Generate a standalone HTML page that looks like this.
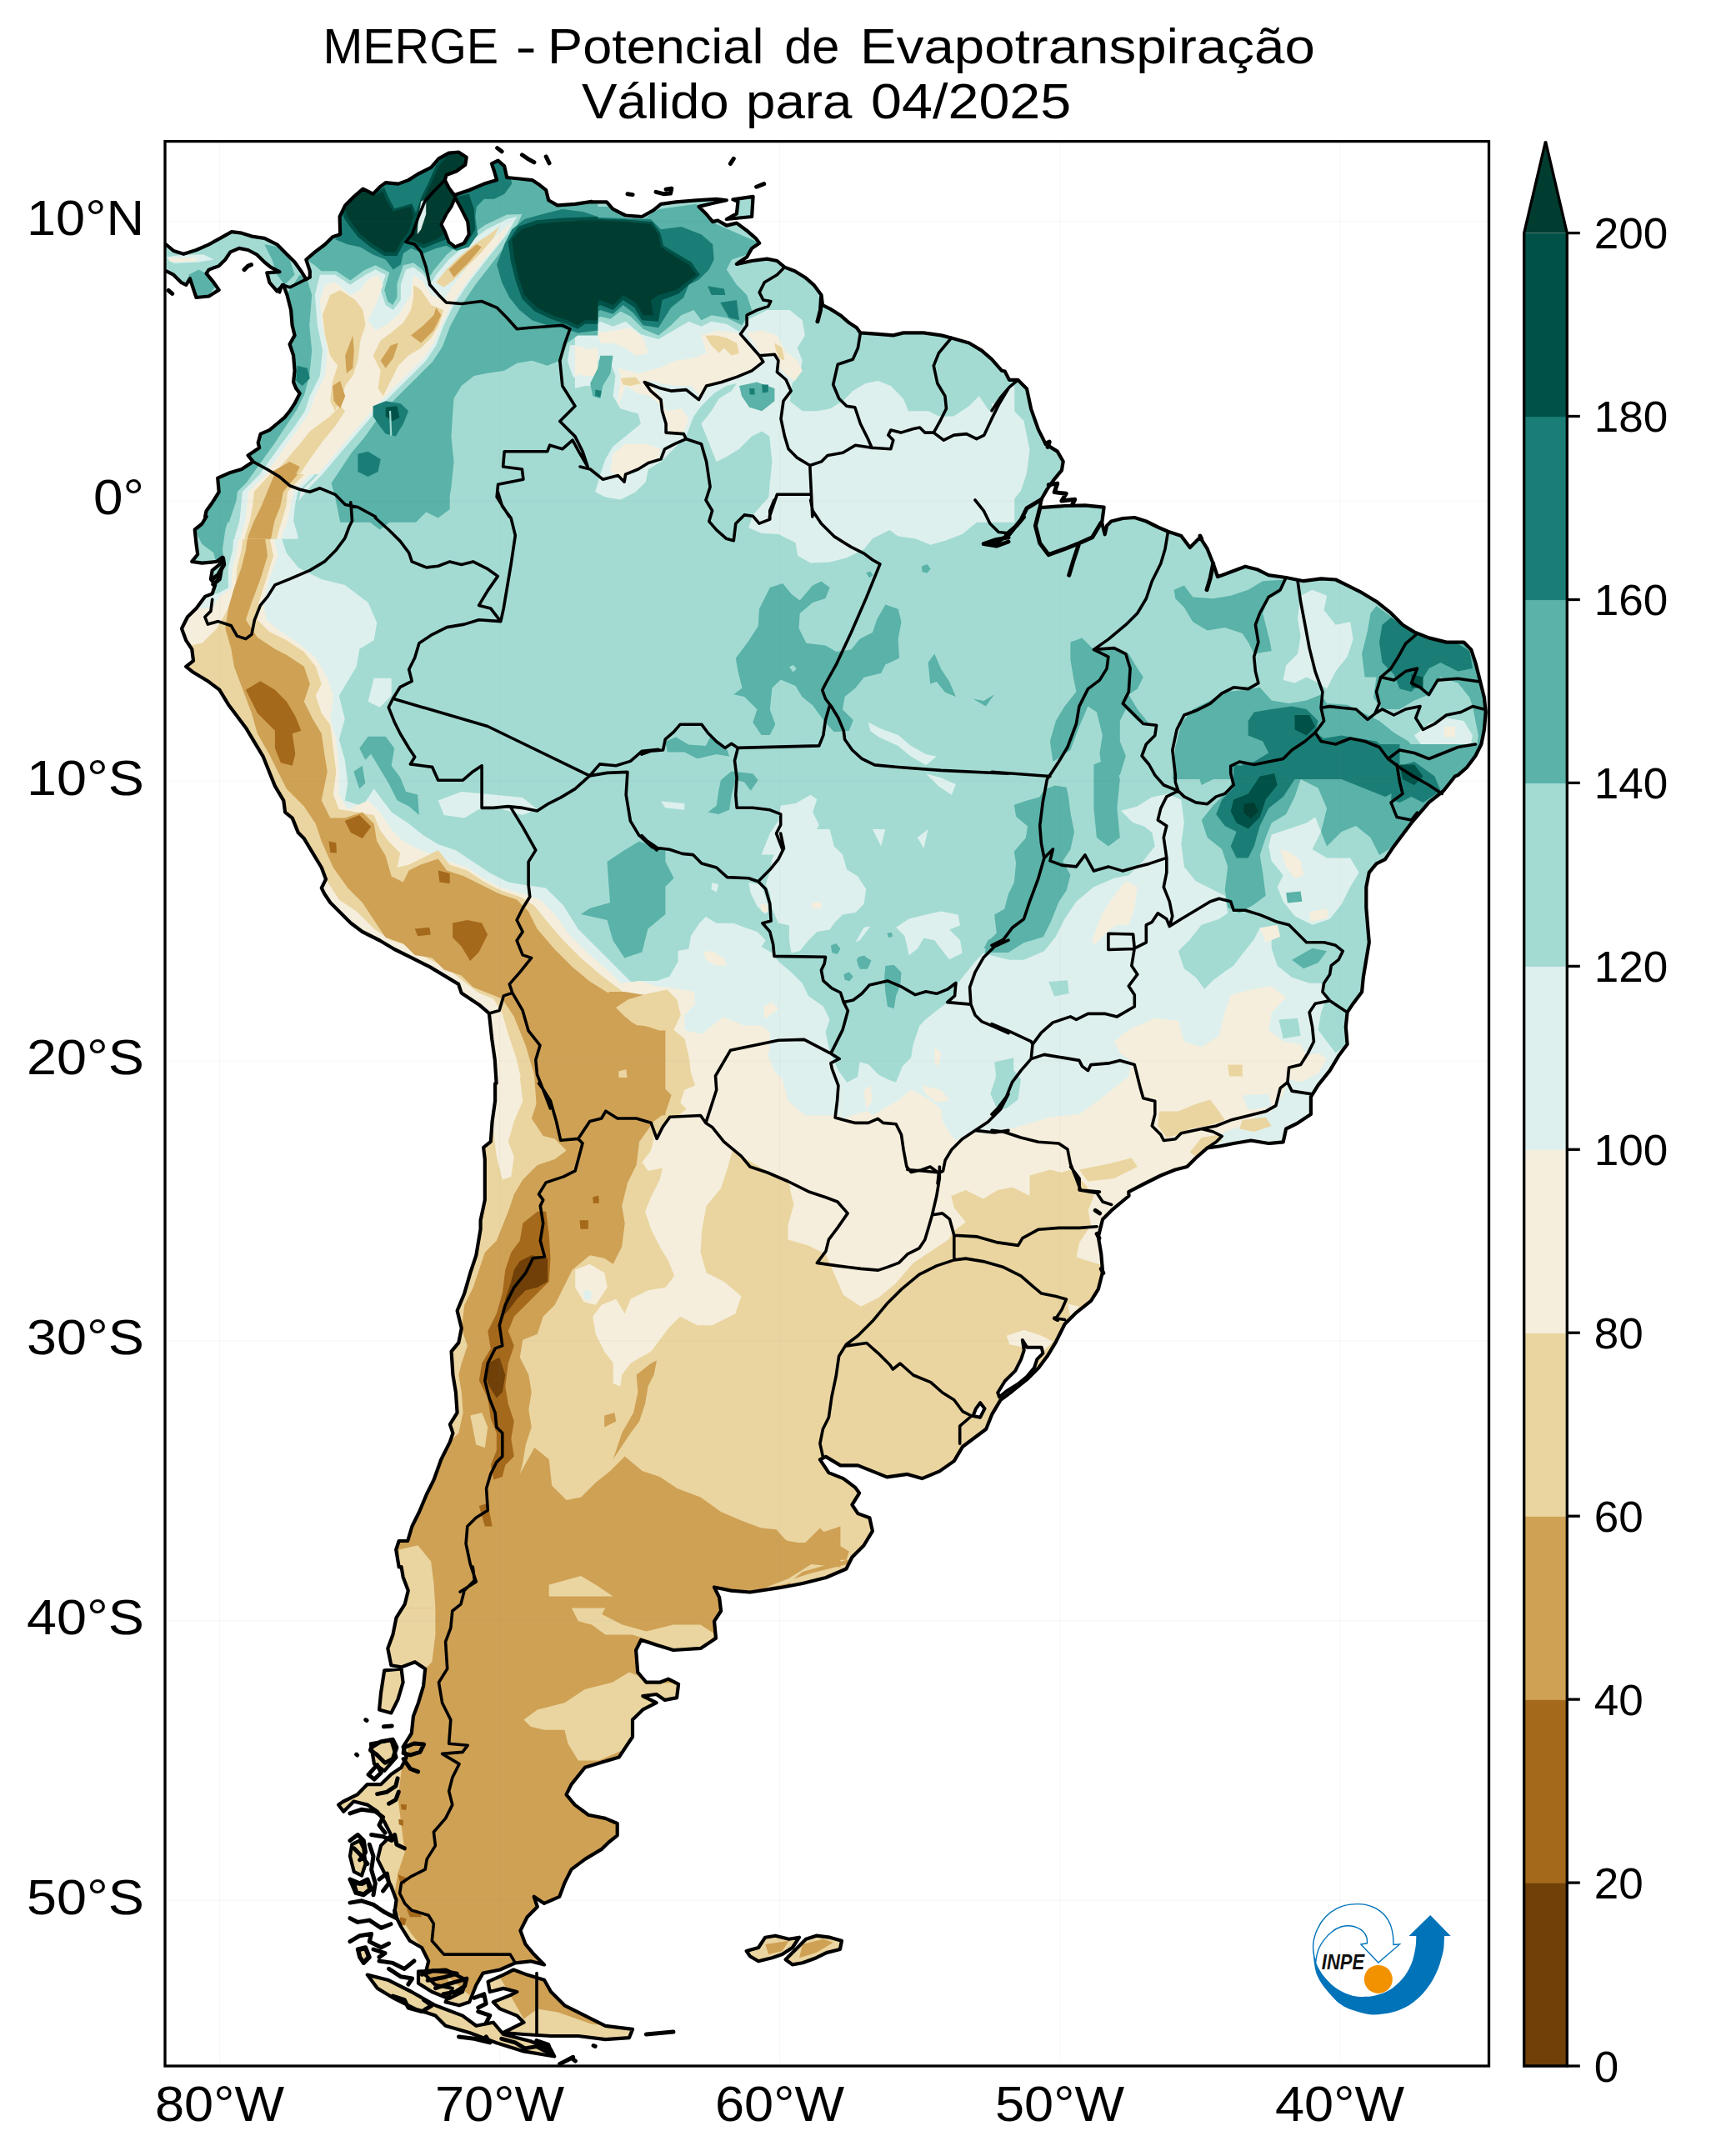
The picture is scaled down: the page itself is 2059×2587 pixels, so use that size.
<!DOCTYPE html>
<html><head><meta charset="utf-8"><title>MERGE - Potencial de Evapotranspiração</title>
<style>html,body{margin:0;padding:0;background:#fff}body{width:2059px;height:2587px;position:relative;overflow:hidden;font-family:"Liberation Sans",sans-serif}</style>
</head><body>
<svg width="2059" height="2587" viewBox="0 0 2059 2587" style="position:absolute;left:0;top:0">
<defs><clipPath id="land"><path d="M180.9,293.3 199.1,293.3 208.2,300.9 220.3,304.8 235.5,300 250.6,293.3 264.2,285.8 277.9,278.2 290,279.7 302.1,283.6 317.3,285.8 332.4,293.3 344.5,305.5 353.6,314.5 361.2,325.2 367.3,335.2 371.8,332.7 371.8,325.2 367.3,311.5 377.9,302.4 390,293.3 399.1,284.2 408.2,281.2 407.6,260 414.2,246.4 424.8,235.8 435.5,226.7 447.6,232.7 456.7,223.6 462.7,219.1 477.9,220.6 490,216.1 502.1,208.5 517.3,200.9 526.4,190.3 538.5,183.6 550.6,182.7 559.7,188.8 558.2,197.9 547.6,205.5 535.5,210 533.9,216.1 538.5,225.2 545.2,234.2 549.1,232.7 562.7,228.2 580.9,220.6 596.1,216.1 593,205.5 590,196.4 597.6,192.7 605.2,199.4 608.2,213 623.3,214.5 638.5,216.1 647.6,222.1 655.2,228.2 658.2,240.3 668.8,246.4 690,244.8 710,241.8 708.2,242.4 727.9,242.4 735.5,250.9 750.6,258.5 770.3,260 783.9,252.4 793,244.8 811.2,242.4 835.5,240.3 859.7,238.8 871.8,240.3 853.6,244.2 838.5,247.9 847.6,257 855.2,266.1 861.2,264.5 871.8,270.6 883.9,267.6 896.1,276.7 906.7,285.8 911.2,291.8 902.1,297.9 896.1,308.5 887,314.5 883.9,317 902.1,313 920.3,310.6 932.4,313 941.5,320.6 953.6,325.2 965.8,332.7 976.4,341.8 985.5,353.9 987,366.1 996.1,370.6 1008.2,378.2 1018.8,387.3 1027.9,393.3 1032.4,399.4 1053.6,400.9 1071.8,402.4 1083.9,399.4 1108.2,399.4 1129.4,402.4 1141.5,405.5 1162.7,411.5 1177.9,420.6 1190,431.2 1202.1,444.8 1205.7,445.5 1211,455.9 1221.5,455.9 1232,466.4 1237.2,490.9 1245.9,515.4 1254.7,532.9 1268.7,541.6 1275.7,553.8 1273.9,564.3 1265.2,574.8 1256.4,587.1 1249.4,599.3 1247.7,609.1 1277.4,607 1301.9,606.3 1324.6,608.7 1322.2,627.3 1325.7,641.3 1328.1,630.8 1333.4,625.5 1347.3,622 1361.3,621 1375.3,625.5 1389.3,632.5 1401.5,637.8 1417.3,643 1427.8,657 1440,644.8 1448.7,658.7 1455.7,676.2 1461,692 1466.2,690.2 1480.2,685 1494.2,679.7 1508.2,683.2 1522.2,690.2 1543.1,693 1564.1,697.2 1585.1,694.4 1602.6,695.5 1616.6,702.4 1634.1,711.2 1651.5,721.7 1669,735.7 1683,749.7 1697,758.4 1714.5,765.4 1735.5,770.6 1756.4,770.6 1765.2,779.4 1770.4,795.1 1775.7,816.1 1780.9,837.1 1782.7,854.5 1780.9,875.5 1777.4,893 1770.4,907 1759.9,921 1749.4,930.1 1745.9,931.5 1732,949 1714.5,962.9 1704,975.2 1693.5,987.4 1683,1001.4 1672.5,1015.4 1662,1031.1 1651.5,1036.4 1642.8,1046.9 1639.3,1064.3 1639.3,1088.8 1641,1109.8 1642.8,1130.8 1639.3,1151.7 1635.8,1172.7 1634.1,1190.2 1623.6,1204.2 1616.6,1214.7 1614.8,1232.2 1616.6,1253.1 1606.1,1267.1 1595.6,1284.6 1581.6,1302.1 1572.9,1316.1 1572.9,1337.1 1557.1,1347.6 1543.1,1354.5 1539.7,1370.3 1522.2,1372 1501.2,1368.5 1480.2,1372 1462.7,1375.5 1448.7,1377.3 1434.8,1389.5 1424.3,1400 1410.3,1403.5 1392.8,1410.5 1371.8,1421 1354.3,1430.1 1354.5,1435 1333.6,1452.4 1323.1,1462.9 1317.8,1483.9 1321.3,1504.9 1323.1,1525.9 1317.8,1546.9 1309.1,1560.8 1291.6,1574.8 1277.6,1588.8 1267.1,1609.8 1256.6,1627.3 1246.2,1641.3 1232.2,1655.2 1214.7,1669.2 1200.7,1679.7 1190.2,1697.2 1183.2,1714.7 1169.2,1725.2 1155.2,1735.7 1144.8,1753.1 1127.3,1765.4 1106.3,1774.1 1088.8,1768.9 1064.3,1772.4 1046.9,1765.4 1029.4,1758.4 1008.4,1758.4 990.9,1747.9 983.9,1751.4 994.4,1767.1 1011.9,1774.1 1025.9,1784.6 1031.1,1791.6 1022.4,1805.6 1029.4,1816.1 1043.4,1821.3 1046.9,1837.1 1036.4,1854.5 1022.4,1868.5 1015.4,1882.5 990.9,1893 962.9,1900 935,1905.2 900,1910.5 877.4,1908.6 857,1904.5 863.1,1916.7 865.1,1933 857,1945.3 859,1965.7 840.6,1977.9 808,1980 787.6,1973.8 769.2,1967.7 763.1,1980 765.2,2006.5 775.4,2018.7 791.7,2018.7 801.9,2014.6 814.1,2020.8 812.1,2037.1 797.8,2039.9 787.6,2033 771.3,2035 787.6,2043.2 771.3,2051.4 759,2063.6 759,2084 750.9,2096.2 742.7,2108.5 722.3,2114.6 701.9,2120.7 685.6,2141.1 679.5,2153.4 689.7,2165.6 706,2177.8 726.4,2181.9 740.7,2188 740.7,2202.3 730.5,2210.5 722.3,2218.6 701.9,2230.9 685.6,2243.1 677.4,2259.4 671.3,2275.8 653,2283.9 640.7,2275.8 644.8,2288 632.6,2300.2 624.4,2316.6 630.5,2332.9 640.7,2345.1 653,2357.4 636.6,2353.3 618.3,2355.3 599.9,2363.5 579.5,2367.6 571.4,2381.8 563.2,2402.2 551,2406.3 534.6,2402.2 542.8,2385.9 522.4,2381.8 510.2,2369.6 514.2,2353.3 506.1,2337 491.8,2328.8 481.6,2312.5 473.4,2296.2 475.5,2279.8 469.4,2263.5 461.2,2247.2 453,2230.9 457.1,2214.6 469.4,2202.3 461.2,2186 453,2173.8 440.8,2165.6 424.5,2161.5 412.2,2173.8 406.1,2165.6 412.2,2161.5 428.6,2153.4 440.8,2141.1 457.1,2141.1 469.4,2128.9 481.6,2120.7 487.7,2108.5 483.6,2096.2 493.8,2079.9 495.9,2059.5 502,2043.2 508.1,2022.8 510.2,2002.4 497.9,1994.2 481.6,2000.4 469.4,1998.3 465.3,1977.9 471.4,1961.6 475.5,1941.2 485.7,1924.9 489.8,1908.6 483.6,1892.2 481.6,1880 478.7,1880.4 475.2,1859.4 478.7,1849 489.2,1849 494.4,1831.5 503.1,1814 511.9,1793 520.6,1775.5 529.4,1751 539.9,1730.1 543.4,1719.6 539.9,1709.1 548.6,1695.1 546.9,1670.6 543.4,1649.7 541.6,1621.7 550.3,1611.2 553.8,1593.7 548.6,1572.7 557.3,1551.7 564.3,1527.3 571.3,1506.3 576.6,1474.8 576.6,1464.3 581.8,1439.9 581.8,1415.4 581.8,1390.9 580.1,1376.9 588.8,1369.9 590.6,1345.5 594.1,1321 594.1,1300 595.6,1299.8 593.8,1271.8 590.3,1247.3 586.9,1215.9 574.6,1205.4 553.6,1191.4 550.1,1180.9 532.7,1170.4 515.2,1159.9 494.2,1149.4 473.2,1139 455.7,1128.5 434.8,1118 420.8,1107.5 406.8,1093.5 396.3,1083 389.3,1072.5 385.8,1065.5 391,1055 385.8,1041 375.3,1023.6 364.8,1006.1 357.8,999.1 350.8,981.6 342.1,974.6 340.3,960.6 329.9,943.1 322.9,925.7 315.9,908.2 305.4,890.7 294.9,873.2 284.4,859.2 273.9,845.2 263.4,827.8 249.4,817.3 232,806.8 223.2,799.8 232,792.8 230.2,778.8 223.2,768.3 218,754.3 225,740.3 235.5,729.9 245.9,715.9 254.7,712.4 258.2,701.9 252.9,694.9 254.7,684.4 263.4,677.4 266.9,668.7 259.9,673.9 242.4,675.7 230.2,673.9 237.2,665.2 235.5,652.9 233.7,635.5 242.4,628.5 247.7,619.7 246.1,620 247.6,613 255.2,602.4 262.7,590.3 261.2,573.6 274.8,567.6 290,563 303.6,553.9 297.6,546.4 311.2,537.3 309.7,531.2 312.7,520.6 323.3,516.1 332.4,508.5 341.5,500.9 347.6,493.3 353.6,484.2 359.7,472.1 355.2,466.1 352.1,458.5 353.6,444.8 352.1,426.7 347.6,413 353.6,402.4 350.6,390.3 349.1,372.1 344.5,353.9 340,341.8 332.4,349.4 323.3,338.8 320.3,327.3 335.5,326.1 324.8,320.6 317.3,314.5 308.2,305.5 297.6,300 287,297.9 276.4,302.4 270.3,311.5 262.7,319.1 250.6,323.6 247.6,328.2 255.2,337.3 262.7,347.9 250.6,355.5 235.5,357 232.4,347.9 227.9,334.2 223.3,341.8 217.3,338.8 208.2,329.7 199.1,325.2 180.9,325.2ZM879.4,239.4 903.6,235.8 902.1,260 871.8,263 883.9,256.4 885.5,241.8ZM616.2,2363.5 632.6,2369.6 653,2375.7 661.1,2390 677.4,2406.3 701.9,2418.6 726.4,2430.8 759,2434.9 755,2445.1 726.4,2447.1 693.8,2443 661.1,2443 628.5,2441 604,2439 628.5,2426.7 620.3,2418.6 599.9,2410.4 591.8,2402.2 612.2,2394.1 620.3,2390 604,2385.9 587.7,2390 585.6,2377.8 604,2369.6ZM461.2,2004.4 481.6,2002.4 483.6,2018.7 477.5,2039.1 469.4,2055.4 455.1,2051.4 457.1,2031ZM444.9,2092.2 469.4,2088.1 475.5,2108.5 461.2,2124.8 449,2116.6ZM440.8,2369.6 465.3,2375.7 493.8,2390 522.4,2406.3 555,2418.6 571.4,2430.8 591.8,2426.7 604,2441 636.6,2449.2 661.1,2459.4 665.2,2467.5 628.5,2461.4 595.8,2451.2 563.2,2439 534.6,2430.8 522.4,2418.6 497.9,2410.4 473.4,2398.2 453,2385.9ZM502,2365.5 534.6,2363.5 559.1,2375.7 555,2390 538.7,2398.2 518.3,2390 502,2379.8ZM895.7,2341 910,2337 918.2,2324.7 930.4,2322.7 946.7,2326.8 959,2324.7 950.8,2337 938.6,2345.1 926.3,2349.2 910,2353.3 899.8,2347.2ZM942.6,2351.2 954.9,2339 967.1,2326.8 979.4,2322.7 995.7,2324.7 1010,2328.8 1007.9,2339 991.6,2343.1 979.4,2349.2 963,2355.3 950.8,2357.4ZM422.3,2213.2 431.7,2208.5 436.3,2217.8 438.6,2236.5 434,2250.5 424.7,2245.8 420,2227.2ZM424.7,2259.8 434,2261 441,2257.5 443.3,2266.8 436.3,2272.6 428.2,2270.3ZM430.5,2340.2 438.2,2337.9 442.1,2347.9 436.3,2354.2 432.1,2348.4Z" clip-rule="nonzero"/></clipPath><clipPath id="frame"><rect x="198" y="169.6" width="1588.5" height="2309.4"/></clipPath></defs>
<g clip-path="url(#frame)">
<g clip-path="url(#land)">
<rect x="190" y="160" width="1610" height="2330" fill="#a3dbd3"/>
<path fill="#def0ed" d="M383.9,329.7 377.9,353.9 380.9,390.3 387,420.6 383.9,450.9 371.8,475.2 365.8,493.3 353.6,511.5 335.5,535.8 320.3,557 305.2,578.2 290,599.4 280.9,626.7 347.6,626.7 359.7,599.4 371.8,584.2 387,569.1 402.1,550.9 420.3,529.7 438.5,508.5 456.7,487.3 474.8,469.1 493,450.9 511.2,432.7 523.3,414.5 532.4,390.3 544.5,366.1 562.7,338.8 583.9,311.5 608.2,281.2 620.3,260 608.2,263 583.9,275.2 559.7,293.3 538.5,311.5 523.3,329.7 515.8,341.8 508.2,329.7 496.1,320.6 487,323.6 480.9,341.8 480.9,360 471.8,372.1 462.7,366.1 456.7,347.9 462.7,329.7 450.6,323.6 438.5,329.7 420.3,341.8 402.1,329.7ZM459.7,225.2 493,226.7 488.5,241.8 477.9,253.9 468.8,247.9 462.7,235.8ZM683.9,414.5 717.3,408.5 717.3,463 699.1,463 687,450.9 680.9,432.7ZM199.1,308.5 220.3,305.5 244.5,305.5 256.7,311.5 238.5,314.5 208.2,316.1ZM487,578.2 505.2,553.9 511.2,584.2 505.2,602.4 490,596.4ZM690,403.9 708.2,394.8 720.3,385.8 735.5,391.8 750.6,385.8 768.8,400.9 790,407 811.2,394.8 826.4,385.8 841.5,391.8 853.6,385.8 871.8,388.8 887,397.9 899.1,382.7 920.3,372.1 947.6,372.1 962.7,384.2 965.8,402.4 956.7,417.6 962.7,432.7 959.7,447.9 950.6,460 947.6,481.2 962.7,493.3 980.9,493.3 996.1,490.3 1011.2,481.2 1023.3,469.1 1038.5,460 1053.6,457 1068.8,463 1083.9,478.2 1090,493.3 1114.2,493.3 1126.4,499.4 1144.5,499.4 1162.7,487.3 1174.8,475.2 1187,493.3 1199.1,478.2 1210,463 1217.3,463 1217.3,626.7 920.3,626.7 923.3,584.2 926.4,553.9 923.3,523.6 914.2,517.6 902.1,523.6 887,538.8 871.8,547.9 859.7,553.9 853.6,538.8 847.6,523.6 841.5,508.5 853.6,493.3 862.7,478.2 877.9,469.1 883.9,460 871.8,463 856.7,472.1 841.5,487.3 832.4,499.4 823.3,523.6 811.2,535.8 793,553.9 777.9,563 774.8,578.2 762.7,590.3 744.5,599.4 726.4,596.4 714.2,590.3 720.3,569.1 726.4,550.9 735.5,535.8 750.6,523.6 768.8,508.5 765.8,496.4 744.5,490.3 735.5,475.2 738.5,450.9 729.4,426.7 717.3,432.7 708.2,450.9 702.1,463 690,466.1ZM787,250.9 811.2,249.4 826.4,253.9 823.3,263 805.2,266.1 790,263ZM1190,483.9 1211,487.4 1228.5,504.9 1235.5,539.9 1232,567.8 1225,588.8 1211,606.3 1190,613.3ZM1560.6,714.7 1574.6,707.7 1592.1,714.7 1588.6,732.2 1602.6,749.7 1620.1,746.2 1623.6,767.1 1616.6,788.1 1602.6,805.6 1592.1,826.6 1581.6,819.6 1567.6,812.6 1553.6,819.6 1539.7,816.1 1543.1,798.6 1557.1,784.6 1560.6,763.6 1557.1,742.7ZM1697,882.5 1714.5,868.5 1735.5,861.5 1756.4,865 1766.9,882.5 1763.4,900 1742.4,903.5 1721.5,907 1707.5,896.5ZM1183,1144.8 1211,1151.7 1228.5,1151.7 1252.9,1141.3 1266.9,1123.8 1277.4,1102.8 1291.4,1081.8 1312.4,1064.3 1336.9,1053.8 1354.3,1050.3 1371.8,1032.9 1385.8,1015.4 1380.6,990.9 1364.8,982.2 1371.8,969.9 1389.3,973.4 1399.8,952.4 1417.3,959.4 1420.8,987.4 1417.3,1011.9 1420.8,1039.9 1434.8,1057.3 1455.7,1067.8 1469.7,1074.8 1473.2,1095.8 1462.7,1102.8 1441.7,1109.8 1427.8,1127.3 1413.8,1141.3 1420.8,1162.2 1434.8,1172.7 1445.2,1186.7 1455.7,1176.2 1469.7,1165.7 1480.2,1158.7 1490.7,1144.8 1504.7,1127.3 1511.7,1113.3 1525.7,1116.8 1525.7,1137.8 1532.7,1158.7 1550.1,1172.7 1571.1,1179.7 1585.1,1179.7 1592.1,1197.2 1585.1,1214.7 1581.6,1235.7 1592.1,1249.7 1602.6,1263.6 1620.1,1249.7 1644.5,1249.7 1644.5,1459.4 1183,1459.4ZM1525.7,1001.4 1546.6,994.4 1567.6,987.4 1578.1,980.4 1585.1,997.9 1574.6,1018.9 1592.1,1029.4 1620.1,1029.4 1630.6,1046.9 1620.1,1064.3 1609.6,1085.3 1595.6,1102.8 1574.6,1109.8 1553.6,1099.3 1539.7,1081.8 1532.7,1064.3 1539.7,1050.3 1525.7,1032.9 1522.2,1015.4ZM893,1393 1508.4,1393 1508.4,1938.5 893,1938.5ZM383.7,1871.8 1109.9,1871.8 1109.9,2508.3 383.7,2508.3ZM898.2,633.3 903.3,617.9 923.8,594.9 1216.2,594.9 1216.2,615.4 1190.5,615.4 1170,628.2 1154.6,641 1134.1,648.7 1116.2,653.8 1098.2,646.2 1077.7,643.6 1067.4,635.9 1046.9,646.2 1036.7,659 1016.2,669.2 995.6,674.4 972.6,675.6 957.2,666.7 954.6,651.3 934.1,641 913.6,639.7ZM936.7,966.7 954.6,964.1 972.6,953.8 980.3,959 975.1,974.4 982.8,989.7 975.1,1005.1 990.5,1025.6 913.6,1025.6 923.8,1000 934.1,984.6ZM1041.8,866.7 1057.2,874.4 1077.7,882.1 1093.1,894.9 1111,905.1 1123.8,907.7 1111,917.9 1093.1,907.7 1077.7,894.9 1054.6,884.6 1044.4,876.9ZM1111,928.2 1129,933.3 1146.9,941 1141.8,953.8 1126.4,943.6ZM793.1,961.5 821.3,964.1 821.3,971.8 798.2,969.2ZM764.9,1176.9 787.9,1176.9 803.3,1171.8 813.6,1153.8 813.6,1141 826.4,1138.5 829,1123.1 839.2,1107.7 846.9,1100 859.7,1107.7 880.3,1107.7 893.1,1112.8 908.5,1117.9 918.7,1128.2 913.6,1135.9 926.4,1143.6 934.1,1153.8 949.5,1166.7 962.3,1179.5 970,1194.9 987.9,1207.7 995.6,1223.1 990.5,1238.5 995.6,1261.5 1005.9,1284.6 1016.2,1298.7 1029,1292.3 1031.5,1274.4 1041.8,1276.9 1054.6,1289.7 1064.9,1294.9 1075.1,1298.7 1082.8,1279.5 1093.1,1269.2 1095.6,1253.8 1103.3,1230.8 1111,1223.1 1123.8,1212.8 1134.1,1205.1 1141.8,1200 1149.5,1179.5 1159.7,1166.7 1170,1153.8 1180.3,1143.6 1190.5,1153.8 1216.2,1153.8 1216.2,1425.6 764.9,1425.6ZM926.4,1030.8 934.1,1015.4 941.8,994.9 995.6,994.9 1000.8,1015.4 1011,1025.6 1016.2,1043.6 1029,1051.3 1039.2,1066.7 1036.7,1084.6 1026.4,1094.9 1011,1097.4 1000.8,1107.7 995.6,1115.4 980.3,1117.9 970,1128.2 959.7,1141 949.5,1143.6 946.9,1128.2 946.9,1110.3 934.1,1107.7 926.4,1089.7 923.8,1071.8 918.7,1061.5 923.8,1046.2ZM898.2,1059 913.6,1061.5 921.3,1084.6 918.7,1097.4 908.5,1087.2 900.8,1071.8ZM1075.1,1112.8 1090.5,1102.6 1111,1097.4 1129,1093.6 1149.5,1097.4 1152.1,1110.3 1139.2,1115.4 1152.1,1128.2 1154.6,1143.6 1139.2,1151.3 1129,1138.5 1121.3,1128.2 1108.5,1125.6 1100.8,1138.5 1090.5,1146.2 1087.9,1133.3 1085.4,1123.1ZM1036.7,1112.8 1044.4,1111.5 1031.5,1128.2 1026.4,1130.8ZM1046.9,994.9 1062.3,994.9 1057.2,1015.4ZM1100.8,1005.1 1113.6,994.9 1108.5,1017.9ZM854.6,1059 862.3,1061.5 859.7,1070.5 853.3,1066.7ZM1345,972.7 1363.6,968.1 1382.3,956.4 1405.6,951.7 1405.6,993.7 1386.9,1003 1373,991.4 1359,986.7ZM386,1293 938.5,1293 945.5,1321 966.4,1338.5 1008.4,1338.5 1008.4,1929.4 386,1929.4ZM340.3,583 347.3,618 336.9,642.4 343.8,663.4 357.8,680.9 385.8,694.9 413.8,701.9 441.7,722.9 452.2,747.3 448.7,768.3 431.3,778.8 427.8,799.8 417.3,817.3 406.8,834.8 413.8,862.7 406.8,887.2 413.8,911.7 417.3,939.7 413.8,960.6 434.8,967.6 448.7,946.6 459.2,960.6 469.7,974.6 490.7,988.6 508.2,1002.6 525.7,1013.1 546.6,1020.1 567.6,1034.1 588.6,1048 609.6,1058.5 630.6,1062 655,1065.5 676,1086.5 693.5,1114.5 714.5,1135.5 735.5,1156.4 756.4,1177.4 777.4,1187.9 798.4,1191.4 798.4,1338.3 183,1338.3 183,712.4 259.9,712.4 273.9,705.4 273.9,680.9 279.2,659.9 280.9,635.5 287.9,611 284.4,583ZM448.7,813.8 469.7,813.8 469.7,834.8 455.7,848.7 441.7,841.7ZM525.7,960.6 553.6,950.1 592.1,953.6 627.1,957.1 644.5,971.1 627.1,978.1 602.6,971.1 574.6,971.1 557.1,981.6 532.7,978.1Z"/>
<path fill="#f5eedc" d="M390,341.8 402.1,338.8 420.3,353.9 432.4,347.9 441.5,335.8 453.6,329.7 459.7,341.8 450.6,366.1 441.5,384.2 450.6,396.4 462.7,390.3 477.9,378.2 493,353.9 496.1,329.7 508.2,338.8 517.3,353.9 532.4,360 544.5,341.8 562.7,317.6 583.9,293.3 608.2,272.1 614.2,266.1 602.1,287.3 580.9,311.5 559.7,338.8 541.5,366.1 529.4,390.3 520.3,411.5 508.2,429.7 490,447.9 471.8,466.1 453.6,484.2 435.5,505.5 417.3,526.7 399.1,547.9 383.9,566.1 368.8,581.2 356.7,596.4 344.5,626.7 290,626.7 299.1,596.4 314.2,575.2 329.4,553.9 344.5,532.7 359.7,511.5 371.8,493.3 377.9,475.2 390,450.9 393,420.6 387,390.3 383.9,360ZM464.2,228.2 488.5,229.1 480.9,246.4 471.8,246.4ZM693,420.6 717.3,417.6 717.3,450.9 699.1,450.9ZM202.1,310 235.5,309.4 235.5,313.3 203.6,313.9ZM690,414.5 702.1,417.6 708.2,432.7 702.1,447.9 690,450.9ZM717.3,399.4 738.5,396.4 756.7,393.3 771.8,405.5 777.9,423.6 762.7,426.7 750.6,417.6 735.5,411.5 720.3,411.5ZM741.5,441.8 765.8,447.9 790,441.8 811.2,432.7 832.4,429.7 847.6,423.6 841.5,402.4 859.7,396.4 883.9,399.4 902.1,417.6 914.2,429.7 914.2,435.8 902.1,444.8 883.9,452.4 865.8,458.5 847.6,463 840,475.2 829.4,463 811.2,463 793,460 777.9,455.5 783.9,466.1 794.5,478.2 799.1,493.3 817.3,490.3 826.4,502.4 820.3,519.1 802.1,517.6 797.6,505.5 793,487.3 780.9,475.2 765.8,472.1 750.6,463 741.5,487.3 744.5,450.9ZM896.1,399.4 914.2,396.4 932.4,402.4 941.5,420.6 956.7,432.7 962.7,444.8 953.6,457 944.5,450.9 935.5,441.8 932.4,426.7 911.2,423.6ZM735.5,544.8 750.6,532.7 774.8,532.7 793,538.8 790,550.9 771.8,557 759.7,566.1 747.6,575.2 732.4,566.1ZM1732,872 1745.9,872 1745.9,884.3 1733.7,884.3ZM1336.9,1249.7 1354.3,1235.7 1385.8,1221.7 1413.8,1225.2 1420.8,1249.7 1441.7,1256.6 1462.7,1242.7 1469.7,1214.7 1476.7,1193.7 1504.7,1186.7 1525.7,1183.2 1543.1,1197.2 1525.7,1214.7 1522.2,1235.7 1539.7,1249.7 1560.6,1253.1 1567.6,1267.1 1581.6,1263.6 1592.1,1270.6 1581.6,1288.1 1560.6,1298.6 1546.6,1295.1 1539.7,1312.6 1525.7,1333.6 1504.7,1340.6 1490.7,1351 1469.7,1358 1455.7,1368.5 1434.8,1389.5 1413.8,1403.5 1392.8,1410.5 1371.8,1421 1354.3,1438.5 1183,1438.5 1183,1361.5 1225,1351 1259.9,1340.6 1294.9,1337.1 1319.4,1319.6 1336.9,1305.6 1354.3,1291.6 1357.8,1274.1 1343.8,1263.6ZM1322.9,1095.8 1336.9,1074.8 1350.8,1057.3 1364.8,1064.3 1361.3,1088.8 1354.3,1109.8 1340.3,1109.8 1329.9,1116.8 1312.4,1134.3 1310.6,1127.3ZM1536.2,1018.9 1546.6,1022.4 1560.6,1032.9 1564.1,1050.3 1553.6,1053.8 1543.1,1039.9ZM1571.1,1094.1 1592.1,1090.6 1593.8,1101 1572.9,1106.3ZM1511.7,1113.3 1532.7,1109.8 1536.2,1123.8 1518.7,1130.8ZM893,1393 1508.4,1393 1508.4,1938.5 893,1938.5ZM383.7,1871.8 1109.9,1871.8 1109.9,2508.3 383.7,2508.3ZM795.6,1189.7 831.5,1189.7 834.1,1205.1 821.3,1217.9 821.3,1235.9 841.8,1241 854.6,1230.8 867.4,1220.5 880.3,1225.6 893.1,1230.8 913.6,1230.8 923.8,1238.5 923.8,1256.4 921.3,1266.7 929,1284.6 939.2,1297.4 944.4,1312.8 954.6,1323.1 964.9,1335.9 975.1,1341 993.1,1341 1002.1,1342.3 1016.2,1341 1029,1335.9 1041.8,1333.3 1046.9,1338.5 1059.7,1330.8 1077.7,1320.5 1093.1,1307.7 1103.3,1312.8 1116.2,1320.5 1129,1330.8 1131.5,1346.2 1139.2,1359 1146.9,1369.2 1154.6,1364.1 1170,1359 1193.1,1361.5 1216.2,1359 1216.2,1425.6 764.9,1425.6 764.9,1179.5 780.3,1184.6ZM844.4,1142.3 854.6,1141 870,1151.3 871.3,1159 857.2,1157.7 846.9,1151.3ZM916.2,1207.7 926.4,1202.6 934.1,1210.3 923.8,1217.9 917.4,1223.1ZM973.8,1083.3 985.4,1082.6 985.9,1089.7 974.6,1090.3ZM1036.7,1307.7 1044.4,1302.6 1046.9,1320.5 1039.2,1330.8ZM1121.3,1256.4 1129,1264.1 1126.4,1279.5 1121.3,1274.4ZM1105.9,1302.6 1129,1307.7 1139.2,1320.5 1123.8,1323.1 1111,1312.8ZM912.3,1084.6 921.3,1085.9 921.8,1094.9 913.6,1093.6ZM386,1307 595.8,1307 602.8,1293 938.5,1293 945.5,1321 966.4,1338.5 1008.4,1338.5 1008.4,1929.4 386,1929.4ZM329.9,583 336.9,618 328.1,642.4 333.4,666.9 322.9,694.9 315.9,722.9 319.4,743.8 336.9,757.8 357.8,771.8 378.8,789.3 392.8,813.8 399.8,834.8 396.3,862.7 403.3,887.2 406.8,922.2 406.8,953.6 417.3,971.1 441.7,960.6 455.7,974.6 469.7,995.6 483.7,1009.6 504.7,1020.1 522.2,1027.1 539.7,1034.1 560.6,1041 581.6,1055 602.6,1065.5 627.1,1072.5 648,1079.5 665.5,1097 683,1121.5 704,1142.4 728.5,1163.4 749.4,1184.4 777.4,1194.9 798.4,1198.4 798.4,1338.3 183,1338.3 183,729.9 254.7,729.9 263.4,715.9 277.4,705.4 279.2,680.9 284.4,659.9 287.9,635.5 294.9,611 291.4,583Z"/>
<path fill="#ead5a0" d="M396.1,353.9 408.2,347.9 426.4,360 435.5,372.1 438.5,390.3 432.4,408.5 429.4,432.7 423.3,450.9 414.2,463 408.2,481.2 402.1,493.3 396.1,481.2 399.1,457 405.2,438.8 396.1,426.7 390,402.4 387,378.2ZM496.1,341.8 505.2,347.9 517.3,366.1 532.4,372.1 526.4,390.3 517.3,405.5 505.2,417.6 490,426.7 477.9,438.8 468.8,457 459.7,475.2 453.6,466.1 456.7,444.8 447.6,426.7 456.7,408.5 468.8,399.4 483.9,387.3 493,372.1 496.1,357ZM383.9,508.5 396.1,499.4 408.2,487.3 414.2,493.3 402.1,511.5 387,529.7 371.8,550.9 359.7,569.1 347.6,590.3 338.5,626.7 296.1,626.7 308.2,596.4 323.3,575.2 341.5,553.9 359.7,532.7 371.8,517.6ZM523.3,338.8 535.5,323.6 550.6,308.5 568.8,293.3 587,281.2 599.1,272.1 593,284.2 577.9,302.4 559.7,320.6 544.5,335.8 532.4,344.8ZM468.8,231.2 483.9,232.7 477.9,244.8 471.8,241.8ZM846.1,402.4 859.7,402.4 871.8,405.5 883.9,411.5 887,423.6 877.9,426.7 868.8,417.6 862.7,423.6 853.6,414.5ZM744.5,453.9 762.7,452.4 768.8,460 756.7,463 747.6,461.5ZM929.4,411.5 938.5,417.6 941.5,432.7 935.5,429.7 930.9,420.6ZM1391,1333.6 1413.8,1333.6 1434.8,1324.8 1452.2,1319.6 1462.7,1333.6 1469.7,1344.1 1448.7,1351 1427.8,1354.5 1413.8,1361.5 1399.8,1365 1389.3,1351ZM1473.2,1277.6 1490.7,1277.6 1490.7,1291.6 1475,1291.6ZM1490.7,1344.1 1518.7,1340.6 1525.7,1351 1504.7,1358 1487.2,1354.5ZM1235.5,1410.5 1259.9,1403.5 1287.9,1410.5 1294.9,1438.5 1235.5,1438.5ZM1294.9,1403.5 1329.9,1396.5 1357.8,1389.5 1364.8,1400 1336.9,1414 1305.4,1417.5ZM1441.7,1365 1462.7,1361.5 1466.2,1368.5 1448.7,1377.3 1434.8,1387.8 1427.8,1382.5ZM893,1393 935,1393 945.5,1417.5 952.4,1445.5 945.5,1469.9 945.5,1487.4 969.9,1494.4 990.9,1504.9 1001.4,1529.4 1011.9,1553.8 1032.9,1567.8 1053.8,1557.3 1074.8,1539.9 1095.8,1515.4 1116.8,1501.4 1137.8,1487.4 1144.8,1476.9 1158.7,1466.4 1144.8,1449 1141.3,1435 1158.7,1428 1179.7,1438.5 1197.2,1428 1214.7,1424.5 1235.7,1435 1242.7,1421 1260.1,1410.5 1284.6,1403.5 1302.1,1421 1312.6,1435 1305.6,1452.4 1309.1,1469.9 1295.1,1490.9 1291.6,1508.4 1302.1,1511.9 1337.1,1522.4 1337.1,1938.5 893,1938.5ZM383.7,1871.8 1109.9,1871.8 1109.9,2508.3 383.7,2508.3ZM764.9,1182.1 785.4,1187.2 798.2,1194.9 813.6,1202.6 816.2,1217.9 808.5,1235.9 821.3,1246.2 826.4,1266.7 829,1287.2 834.1,1302.6 821.3,1307.7 816.2,1323.1 823.8,1330.8 811,1341 803.3,1339.7 789.2,1366.7 780.3,1346.2 764.9,1342.3ZM764.9,1384.6 780.3,1400 785.4,1425.6 764.9,1425.6ZM880.3,1425.6 877.7,1400 882.8,1371.8 898.2,1369.2 913.6,1376.9 923.8,1389.7 934.1,1402.6 949.5,1425.6ZM386,1293 784.6,1293 784.6,1366.4 900,1366.4 900,1929.4 386,1929.4ZM324.6,583 329.9,618 322.9,642.4 328.1,666.9 319.4,694.9 310.6,722.9 308.9,743.8 322.9,757.8 343.8,768.3 364.8,782.3 378.8,799.8 385.8,820.8 378.8,834.8 385.8,855.7 396.3,869.7 399.8,897.7 403.3,925.7 399.8,953.6 406.8,971.1 427.8,974.6 448.7,978.1 455.7,995.6 466.2,1009.6 480.2,1023.6 476.7,1041 490.7,1037.6 504.7,1030.6 525.7,1020.1 539.7,1037.6 560.6,1044.5 581.6,1058.5 602.6,1069 623.6,1076 641,1086.5 655,1104 676,1128.5 697,1149.4 721.5,1170.4 749.4,1191.4 798.4,1205.4 798.4,1338.3 630.6,1338.3 627.1,1303.3 620.1,1271.8 609.6,1240.3 602.6,1215.9 592.1,1198.4 574.6,1191.4 560.6,1180.9 543.1,1166.9 525.7,1156.4 504.7,1145.9 490.7,1135.5 469.7,1128.5 448.7,1114.5 427.8,1093.5 406.8,1079.5 391,1055 364.8,1055 183,1055 183,775.3 225,775.3 242.4,771.8 259.9,754.3 273.9,729.9 282.7,705.4 284.4,680.9 289.7,659.9 293.1,635.5 300.1,611 296.6,583Z"/>
<path fill="#cfa155" d="M414.2,426.7 423.3,402.4 424.8,420.6 423.3,441.8 415.8,447.9ZM399.1,463 408.2,457 414.2,475.2 408.2,490.3 400.6,481.2ZM456.7,432.7 468.8,414.5 477.9,411.5 471.8,429.7 462.7,441.8ZM493,402.4 508.2,390.3 520.3,378.2 523.3,369.1 529.4,378.2 520.3,396.4 505.2,411.5ZM326.4,566.1 347.6,553.9 359.7,560 350.6,578.2 335.5,593.3 323.3,626.7 305.2,626.7 314.2,590.3ZM538.5,323.6 553.6,308.5 571.8,293.3 577.9,296.4 562.7,314.5 544.5,332.7ZM893,1831.8 914,1833.6 931.5,1835.3 945.5,1851 966.4,1851 983.9,1833.6 1001.4,1851 1018.9,1861.5 1015.4,1872 987.4,1879 962.9,1886 945.5,1900 893,1910.5ZM534.6,1871.8 534.6,1904.5 522.4,1929 522.4,1961.6 518.3,1994.2 510.2,2002.4 508.1,2022.8 502,2043.2 495.9,2059.5 493.8,2079.9 487.7,2108.5 481.6,2124.8 477.5,2157.4 481.6,2190.1 485.7,2222.7 477.5,2247.2 473.4,2271.7 477.5,2296.2 493.8,2320.6 510.2,2341 518.3,2365.5 534.6,2369.6 563.2,2394.1 579.5,2369.6 595.8,2365.5 612.2,2394.1 628.5,2422.6 644.8,2410.4 669.3,2414.5 710.1,2428.8 767.2,2432.8 767.2,2288 1109.9,2288 1109.9,1871.8ZM764.9,1228.2 780.3,1230.8 790.5,1241 795.6,1256.4 790.5,1276.9 793.1,1297.4 785.4,1307.7 800.8,1323.1 795.6,1333.3 785.4,1341 775.1,1343.6 764.9,1342.3ZM764.9,1189.7 775.1,1192.3 764.9,1197.4ZM730.5,1189.9 774.8,1189.9 763.2,1199.2 749.2,1203.8 758.5,1227.2 777.2,1231.8 791.1,1236.5 795.8,1255.1 786.5,1283.1 781.8,1301.7 793.5,1313.4 800.5,1325.1 793.5,1336.7 786.5,1343.7 730.5,1343.7ZM319.4,583 324.6,618 317.6,642.4 321.1,666.9 312.4,694.9 301.9,722.9 294.9,743.8 308.9,764.8 329.9,778.8 343.8,785.8 364.8,799.8 371.8,820.8 364.8,841.7 375.3,862.7 385.8,880.2 389.3,904.7 392.8,925.7 389.3,943.1 385.8,960.6 396.3,981.6 413.8,981.6 434.8,974.6 448.7,988.6 452.2,1009.6 462.7,1027.1 469.7,1051.5 483.7,1058.5 490.7,1044.5 504.7,1037.6 525.7,1030.6 536.2,1044.5 557.1,1051.5 578.1,1062 599.1,1072.5 620.1,1079.5 634.1,1093.5 644.5,1114.5 665.5,1139 686.5,1159.9 707.5,1177.4 735.5,1194.9 763.4,1191.4 798.4,1187.9 798.4,1338.3 644.5,1338.3 641,1289.3 630.6,1254.3 616.6,1219.4 602.6,1198.4 585.1,1191.4 567.6,1184.4 553.6,1170.4 532.7,1163.4 518.7,1149.4 497.7,1145.9 483.7,1132 462.7,1125 448.7,1104 434.8,1083 417.3,1065.5 399.8,1041 385.8,1009.6 378.8,988.6 364.8,967.6 343.8,946.6 333.4,925.7 322.9,904.7 308.9,880.2 301.9,855.7 291.4,827.8 280.9,799.8 277.4,778.8 270.4,754.3 273.9,729.9 280.9,705.4 289.7,680.9 294.9,659.9 298.4,635.5 305.4,611 301.9,583Z"/>
<path fill="#a5691b" d="M480.8,2164.8 488.1,2165.6 487.3,2172.1 481.6,2171.3ZM478.3,2182.7 484,2184 483.6,2190.9 478.7,2189.3ZM477.5,2249.2 487.7,2253.3 485.7,2261.5 479.6,2257.4ZM487.7,2290 502,2292.1 506.1,2300.2 491.8,2300.2ZM479.6,2300.2 487.7,2302.3 485.7,2310.4 479.6,2308.4ZM294.9,827.8 312.4,817.3 329.9,827.8 343.8,841.7 354.3,859.2 361.3,876.7 350.8,880.2 354.3,904.7 350.8,918.7 336.9,915.2 329.9,897.7 329.9,876.7 319.4,866.2 308.9,855.7 301.9,841.7ZM413.8,985.1 431.3,978.1 445.2,992.1 434.8,1006.1 420.8,999.1ZM543.1,1107.5 560.6,1104 578.1,1107.5 585.1,1121.5 574.6,1142.4 564.1,1152.9 553.6,1135.5 543.1,1125ZM497.7,1114.5 515.2,1112.7 516.9,1121.5 501.2,1123.2ZM525.7,1044.5 539.7,1048 539.7,1060.3 527.4,1058.5ZM394.5,1009.6 403.3,1011.3 404,1023.6 396.3,1022.9Z"/>
<path fill="#5ab2a8" d="M359.7,305.5 402.1,275.2 402.1,220.6 523.3,172.1 568.8,172.1 568.8,211.5 614.2,202.4 662.7,220.6 662.7,238.8 717.3,235.8 717.3,402.4 693,402.4 680.9,411.5 671.8,432.7 656.7,438.8 638.5,432.7 620.3,435.8 605.2,444.8 583.9,447.9 568.8,450.9 553.6,463 544.5,478.2 543,499.4 541.5,523.6 544.5,553.9 541.5,584.2 538.5,602.4 523.3,605.5 511.2,614.5 499.1,626.7 408.2,626.7 402.1,596.4 397.6,579.7 409.7,561.5 421.8,543.3 437,525.2 452.1,503.9 464.2,488.8 482.4,470.6 500.6,452.4 518.8,434.2 530.9,416.1 540,391.8 552.1,369.1 570.3,341.8 591.5,314.5 614.2,284.2 626.4,257 608.2,257.6 582.4,269.7 556.7,287.9 535.5,306.1 519.7,325.2 514.2,334.2 506.7,323.6 496.1,315.2 483.9,318.2 476.4,340.3 476.4,357 471.2,366.1 465.2,361.5 461.2,347.9 467.3,326.7 450.6,318.2 437,324.2 420.3,336.4 403.6,325.2 385.5,325.2 378.5,319.1ZM368.8,335.8 374.2,353.9 371.2,390.3 374.2,420.6 371.2,450.9 365.2,473.6 356.1,491.8 343.9,510 329.4,532.1 314.2,553.3 299.7,573.6 285.5,594.8 274.8,626.7 235.5,626.7 250.6,584.2 296.1,538.8 341.5,493.3 350.6,432.7 341.5,357 359.7,329.7ZM226.4,329.7 238.5,323.6 250.6,329.7 259.7,341.8 250.6,353.9 235.5,357 229.4,341.8ZM317.3,293.3 335.5,296.4 347.6,311.5 353.6,329.7 341.5,341.8 332.4,329.7 326.4,311.5ZM690,246.4 732.4,247.9 750.6,261.5 771.8,263 790,250.9 835.5,244.8 859.7,269.1 908.2,290.3 896.1,305.5 877.9,311.5 871.8,323.6 883.9,341.8 896.1,353.9 902.1,372.1 890,390.3 871.8,381.2 853.6,378.2 841.5,384.2 832.4,372.1 817.3,378.2 805.2,390.3 790,402.4 771.8,394.8 756.7,379.7 744.5,373.6 732.4,382.7 720.3,379.7 711.2,385.8 702.1,397.9 690,402.4ZM887,463 908.2,458.5 929.4,466.1 929.4,481.2 914.2,493.3 899.1,488.8 890,475.2ZM720.3,426.7 735.5,426.7 732.4,447.9 723.3,463 720.3,478.2 711.2,475.2 708.2,460 717.3,441.8ZM1408.5,707.7 1420.8,702.4 1431.3,716.4 1455.7,718.2 1476.7,714.7 1497.7,707.7 1515.2,697.2 1543.1,695.5 1536.2,711.2 1522.2,718.2 1515.2,735.7 1518.7,749.7 1523.9,770.6 1525.7,781.1 1504.7,784.6 1497.7,770.6 1490.7,760.1 1469.7,753.1 1448.7,756.6 1431.3,746.2 1420.8,728.7 1410.3,718.2ZM1284.4,770.6 1298.4,765.4 1312.4,779.4 1336.9,777.6 1354.3,784.6 1364.8,802.1 1371.8,812.6 1364.8,826.6 1354.3,833.6 1364.8,851 1378.8,868.5 1364.8,865 1350.8,851 1343.8,865 1343.8,889.5 1350.8,907 1343.8,930.1 1322.9,930.1 1319.4,903.5 1322.9,882.5 1315.9,854.5 1305.4,847.6 1294.9,872 1284.4,900 1263.4,914 1259.9,889.5 1266.9,865 1277.4,847.6 1291.4,830.1 1287.9,812.6 1284.4,791.6ZM1644.5,735.7 1651.5,726.9 1683,749.7 1714.5,765.4 1756.4,770.6 1770.4,795.1 1780.9,837.1 1784.4,865 1770.4,858 1763.4,837.1 1749.4,819.6 1728.5,812.6 1714.5,833.6 1697,840.6 1679.5,851 1658.5,851 1648,837.1 1651.5,812.6 1637.6,812.6 1634.1,784.6 1641,756.6ZM1431.3,851 1452.2,840.6 1469.7,830.1 1490.7,828.3 1511.7,824.8 1525.7,840.6 1546.6,844.1 1567.6,840.6 1585.1,833.6 1592.1,844.1 1616.6,845.8 1634.1,854.5 1655,865 1672.5,879 1690,889.5 1700.5,903.5 1714.5,896.5 1735.5,903.5 1756.4,907 1770.4,907 1763.4,935 1406.8,935 1410.3,896.5 1417.3,868.5ZM1766.9,847.6 1784.4,847.6 1784.4,910.5 1770.4,907 1773.9,882.5ZM1312.4,917.5 1336.9,907 1343.8,935 1340.3,969.9 1343.8,1004.9 1329.9,1015.4 1315.9,1004.9 1312.4,969.9ZM1434.8,893 1790,893 1749.4,928 1732,949 1704,975.2 1672.5,1015.4 1655,1025.9 1644.5,1004.9 1627.1,990.9 1609.6,997.9 1592.1,1015.4 1585.1,997.9 1592.1,969.9 1581.6,945.5 1560.6,935 1553.6,955.9 1543.1,976.9 1525.7,987.4 1518.7,1004.9 1511.7,1025.9 1515.2,1046.9 1518.7,1074.8 1504.7,1085.3 1487.2,1095.8 1473.2,1088.8 1469.7,1067.8 1473.2,1039.9 1466.2,1018.9 1448.7,1004.9 1441.7,983.9 1455.7,966.4 1469.7,952.4 1480.2,935 1469.7,921 1455.7,935 1441.7,942 1434.8,921ZM1543.1,1071.3 1560.6,1069.6 1562.4,1081.8 1544.9,1083.6ZM1550.1,1151.7 1574.6,1137.8 1592.1,1141.3 1581.6,1155.2 1564.1,1162.2ZM923.8,705.1 939.2,700 949.5,712.8 959.7,720.5 975.1,702.6 985.4,697.4 995.6,705.1 990.5,717.9 975.1,723.1 959.7,735.9 958.5,753.8 967.4,771.8 990.5,774.4 1003.3,782.1 1021.3,779.5 1031.5,766.7 1046.9,759 1052.1,743.6 1062.3,725.6 1077.7,730.8 1081.5,746.2 1077.7,766.7 1079,789.7 1062.3,797.4 1057.2,807.7 1036.7,812.8 1026.4,825.6 1013.6,835.9 1011,851.3 1023.8,864.1 1018.7,876.9 1000.8,878.2 987.9,864.1 975.1,846.2 962.3,835.9 954.6,823.1 936.7,815.4 926.4,825.6 923.8,851.3 930.3,869.2 923.8,882.1 913.6,882.1 903.3,866.7 908.5,851.3 893.1,835.9 880.3,833.3 890.5,825.6 885.4,805.1 882.8,789.7 898.2,769.2 909.7,751.3 911,730.8ZM1113.6,794.9 1121.3,784.6 1129,802.6 1139.2,817.9 1146.9,835.9 1134.1,830.8 1123.8,817.9 1116.2,820.5ZM1167.4,838.5 1180.3,841 1193.1,833.3 1182.8,847.4ZM798.2,889.7 811,884.6 826.4,893.6 846.9,894.9 852.1,884.6 872.6,900 875.1,907.7 859.7,905.1 836.7,910.3 821.3,902.6 800.8,902.6ZM864.9,935.9 877.7,925.6 903.3,928.2 909.7,935.9 900.8,948.7 893.1,938.5 882.8,935.9 877.7,953.8 875.1,971.8 862.3,976.9 849.5,974.4 859.7,966.7 862.3,948.7ZM1105.9,679.5 1112.3,676.9 1116.7,682.6 1112.3,687.7 1106.4,685.9ZM1039.2,687.2 1044.4,685.4 1047.4,690.3 1043.1,693.6ZM764.9,1012.8 785.4,1023.1 798.2,1033.3 808.5,1053.8 795.6,1066.7 780.3,1079.5 775.1,1102.6 764.9,1128.2ZM1193.1,1097.4 1216.2,1084.6 1216.2,1128.2 1195.6,1133.3 1180.3,1138.5 1185.4,1128.2 1198.2,1120.5ZM996.9,1134.6 1003.3,1132.1 1008.5,1138.5 1004.6,1144.9 998.2,1143.1ZM1027.7,1151.3 1036.7,1146.9 1045.6,1152.6 1041.8,1161 1030.3,1160.3ZM1012.3,1169.2 1018.7,1166.2 1023.8,1171.8 1019.2,1177.4 1013.6,1175.6ZM1062.3,1159 1072.6,1157.7 1081.5,1166.7 1080.3,1182.1 1075.1,1194.9 1072.6,1210.3 1064.9,1207.7 1062.3,1189.7 1061,1174.4ZM1064.4,1120 1069.5,1118.7 1071.3,1123.6 1066.2,1125.1ZM1216.8,965.7 1230.8,961.1 1247.1,956.4 1254.1,947.1 1265.7,942.4 1279.7,944.8 1282.1,956.4 1284.4,975.1 1289,998.4 1284.4,1019.3 1275.1,1033.3 1284.4,1049.7 1279.7,1068.3 1270.4,1082.3 1261.1,1105.6 1251.7,1124.2 1228.4,1131.2 1209.8,1142.9 1181.8,1142.9 1184.1,1131.2 1195.8,1119.6 1193.5,1100.9 1205.1,1091.6 1209.8,1073 1216.8,1059 1219.1,1035.7 1216.8,1021.7 1230.8,1005.4 1233.1,991.4 1219.1,979.7ZM1029.1,1148.7 1037.3,1146.4 1044.3,1154.5 1040.8,1162.7 1031.5,1162.7ZM417.3,583 539.7,583 539.7,611 525.7,621.5 504.7,611 490.7,625 469.7,625 455.7,635.5 441.7,625 434.8,611ZM431.3,897.7 441.7,883.7 462.7,883.7 473.2,897.7 469.7,918.7 480.2,932.7 487.2,950.1 501.2,953.6 502.9,978.1 490.7,967.6 476.7,960.6 466.2,939.7 455.7,922.2 445.2,904.7 438.3,911.7ZM424.3,925.7 434.8,918.7 438.3,939.7 431.3,946.6ZM728.5,1034.1 749.4,1020.1 766.9,1009.6 798.4,1020.1 798.4,1097 777.4,1114.5 770.4,1142.4 749.4,1149.4 735.5,1128.5 728.5,1104 697,1097 707.5,1090 732,1083 730.2,1058.5ZM235.5,621.5 259.9,600.5 270.4,583 277.4,611 270.4,635.5 266.9,659.9 270.4,680.9 259.9,677.4 256.4,663.4 242.4,652.9 233.7,635.5Z"/>
<path fill="#1b7e76" d="M402.1,287.3 408.2,281.2 407.6,260 411.2,243.3 421.8,231.2 435.5,222.1 447.6,228.2 456.7,219.1 462.7,214.5 477.9,216.1 490,211.5 502.1,203.9 517.3,196.4 526.4,185.8 538.5,178.2 553.6,178.2 565.8,188.8 561.2,200.9 550.6,208.5 547.6,225.2 553.6,231.2 562.7,225.2 580.9,217.6 596.1,213 590,205.5 596.1,188.8 608.2,196.4 612.7,213 614.2,220.6 605.2,232.7 593,238.8 580.9,238.8 571.8,247.9 570.3,260 573.3,281.2 562.7,296.4 547.6,300.9 535.5,294.8 523.3,297.9 508.2,303.9 493,297.9 483.9,303.9 480.9,317.6 471.8,323.6 462.7,311.5 447.6,305.5 432.4,296.4 417.3,293.3ZM596.1,317.6 605.2,293.3 614.2,275.2 629.4,263 650.6,257 674.8,250.9 699.1,253.9 717.3,260 717.3,396.4 693,399.4 674.8,393.3 656.7,390.3 638.5,384.2 623.3,372.1 611.2,357 602.1,338.8ZM356.7,438.8 368.8,441.8 371.8,453.9 362.7,463 355.2,457ZM447.6,487.3 462.7,481.2 480.9,484.2 490,493.3 483.9,508.5 474.8,523.6 462.7,520.6 453.6,508.5 447.6,499.4ZM429.4,544.8 441.5,541.8 456.7,550.9 453.6,566.1 441.5,572.1 429.4,566.1ZM690,260 780.9,263 793,275.2 817.3,272.1 841.5,281.2 855.2,293.3 856.7,311.5 850.6,323.6 838.5,335.8 826.4,341.8 820.3,357 805.2,369.1 790,393.3 771.8,390.3 759.7,375.2 747.6,366.1 735.5,376.7 720.3,372.1 708.2,379.7 699.1,391.8 690,396.4ZM849.1,343.3 868.8,346.4 870.3,353.9 853.6,353.9ZM864.2,363 883.9,360 887,384.2 874.8,381.2ZM899.1,466.1 905.2,466.1 905.8,473.6 899.7,473.6ZM914.2,461.5 921.8,461.5 921.8,470.6 914.8,471.5ZM714.2,467.6 721.8,469.1 720.3,476.7 714.2,475.2ZM1504.7,854.5 1525.7,851 1550.1,847.6 1567.6,851 1581.6,865 1578.1,879 1588.6,886 1609.6,882.5 1630.6,886 1651.5,889.5 1669,903.5 1679.5,921 1686.5,935 1480.2,935 1490.7,917.5 1504.7,914 1522.2,903.5 1515.2,889.5 1497.7,882.5 1497.7,865ZM1658.5,749.7 1669,740.9 1686.5,753.1 1714.5,767.1 1749.4,772.4 1763.4,781.1 1766.9,802.1 1749.4,805.6 1728.5,795.1 1714.5,802.1 1704,819.6 1693.5,830.1 1679.5,826.6 1672.5,809.1 1658.5,795.1 1655,770.6ZM1480.2,917.5 1504.7,921 1525.7,914 1550.1,903.5 1574.6,893 1679.5,893 1679.5,921 1676,949 1662,955.9 1644.5,949 1627.1,942 1609.6,935 1574.6,928 1553.6,935 1539.7,955.9 1522.2,969.9 1511.7,990.9 1504.7,1015.4 1497.7,1029.4 1483.7,1029.4 1476.7,1015.4 1483.7,997.9 1469.7,990.9 1459.2,976.9 1466.2,959.4 1480.2,945.5ZM1672.5,921 1697,914 1721.5,931.5 1728.5,949 1707.5,962.9 1693.5,955.9 1679.5,962.9 1669,959.4Z"/>
<path fill="#005147" d="M409.7,250.9 423.3,232.7 438.5,224.2 450.6,230.3 461.2,225.2 466.4,237.3 473.3,250.3 494.5,244.2 500.6,260 493,281.2 483.9,293.3 476.4,307 461.2,307 444.5,296.4 429.4,284.2 418.8,270.6 412.7,261.5ZM488.5,290.3 497.6,260 505.2,237.3 514.2,219.1 523.3,197.9 537,181.2 555.2,181.2 562.7,196.4 547.6,208.5 540,214.5 543,225.2 549.1,235.8 562.7,232.7 568.8,250.9 570.3,275.2 559.7,293.3 544.5,297.9 535.5,287.3 523.3,291.8 508.2,297.9ZM609.7,290.3 621.8,272.1 643,264.5 674.8,261.5 717.3,260 717.3,388.8 702.1,388.8 693,394.8 679.4,388.8 661.2,382.7 641.5,373.6 626.4,358.5 618.8,337.3 612.7,313ZM462.7,488.8 476.4,487.3 479.4,500.9 470.3,505.5 462.7,499.4ZM690,262.4 720.3,262.4 750.6,263.6 782.4,266.1 792.4,279.7 796.1,294.8 814.2,305.5 829.4,314.5 840,329.7 826.4,341.8 814.2,352.4 794.5,360 790,385.8 770.3,384.2 761.2,369.1 747.6,360 735.5,372.1 720.3,366.1 708.2,372.1 702.1,384.2 690,390.3ZM1553.6,858 1571.1,858 1578.1,872 1567.6,882.5 1553.6,875.5ZM1693.5,809.1 1707.5,812.6 1707.5,826.6 1693.5,824.8ZM1480.2,959.4 1497.7,952.4 1511.7,931.5 1529.2,928 1532.7,942 1518.7,959.4 1511.7,980.4 1497.7,994.4 1483.7,987.4 1476.7,973.4ZM1679.5,917.5 1697,917.5 1707.5,931.5 1697,942 1683,935Z"/>
<path fill="#003c30" d="M414.2,250.9 426.4,235.8 438.5,228.2 450.6,234.2 459.7,229.7 462.7,238.8 471.8,253.9 480.9,250.9 493,247.9 496.1,260 490,278.2 480.9,290.3 474.8,302.4 462.7,302.4 447.6,293.3 432.4,281.2 423.3,269.1 417.3,260ZM493,287.3 502.1,260 508.2,238.8 517.3,220.6 526.4,199.4 538.5,185.8 553.6,185.8 558.2,196.4 544.5,207 535.5,213 538.5,225.2 544.5,235.8 538.5,247.9 529.4,263 532.4,281.2 523.3,287.3 508.2,293.3ZM614.2,287.3 626.4,275.2 644.5,269.1 674.8,266.1 717.3,264.5 717.3,384.2 702.1,384.2 693,390.3 680.9,384.2 662.7,378.2 644.5,369.1 629.4,353.9 623.3,335.8 617.3,311.5ZM690,264.5 720.3,264.5 750.6,266.1 780.9,269.1 790,281.2 793,296.4 811.2,308.5 826.4,317.6 835.5,329.7 823.3,338.8 811.2,347.9 790,353.9 780.9,360 783.9,378.2 771.8,378.2 762.7,363 747.6,353.9 735.5,366.1 720.3,360 705.2,366.1 702.1,378.2 690,384.2ZM1492.4,964.7 1504.7,962.9 1509.9,973.4 1501.2,982.2 1492.4,975.2Z"/>
<path fill="#def0ed" d="M505.2,241.8 511.2,238.8 511.2,257 505.2,275.2 500.6,281.2 502.1,260Z"/>
<path fill="#a3dbd3" d="M467,493.3 469.1,492.7 470.3,522.1 468.2,523.6Z"/>
<path fill="#a3dbd3" d="M1534.4,1223.4 1557.1,1221.7 1560.6,1242.7 1539.7,1246.2Z"/>
<path fill="#a3dbd3" d="M1258.2,1178 1280.9,1176.2 1282.7,1192 1265.2,1195.5Z"/>
<path fill="#a3dbd3" d="M1193.5,1275.9 1211,1277.6 1225,1295.1 1221.5,1319.6 1207.5,1330.1 1197,1331.8 1188.3,1312.6 1195.2,1291.6Z"/>
<path fill="#def0ed" d="M1490.7,1314.3 1522.2,1312.6 1525.7,1328.3 1497.7,1331.8Z"/>
<path fill="#f5eedc" d="M1207.7,1602.8 1228.7,1595.8 1249.7,1602.8 1263.6,1609.8 1249.7,1623.8 1228.7,1616.8 1211.2,1613.3Z"/>
<path fill="#f5eedc" d="M1281.1,1564.3 1295.1,1567.8 1284.6,1581.8Z"/>
<path fill="#ead5a0" d="M653,1904.5 685.6,1900.4 701.9,1888.2 726.4,1904.5 730.5,1920.8 722.3,1937.1 746.8,1949.4 775.4,1957.5 791.7,1953.4 808,1949.4 840.6,1949.4 859,1961.6 840.6,1977.9 808,1980 783.5,1969.8 759,1961.6 726.4,1961.6 710.1,1949.4 693.8,1945.3 681.5,1920.8 661.1,1912.6Z"/>
<path fill="#ead5a0" d="M628.5,2063.6 644.8,2051.4 677.4,2043.2 701.9,2026.9 734.6,2018.7 755,2006.5 765.2,2010.6 775.4,2020.8 816.2,2018.7 816.2,2041.2 771.3,2051.4 759,2067.7 759,2084 746.8,2100.3 718.2,2112.6 693.8,2112.6 681.5,2092.2 677.4,2075.8 653,2075.8 636.6,2071.8Z"/>
<path fill="#ead5a0" d="M946.7,1896.3 971.2,1888.2 1020.2,1875.9 1024.2,1888.2 991.6,1896.3 950.8,1906.5Z"/>
<path fill="#cfa155" d="M918.2,2332.9 946.7,2328.8 938.6,2341 922.2,2345.1Z"/>
<path fill="#cfa155" d="M963,2332.9 987.5,2326.8 999.8,2330.8 979.4,2343.1 959,2349.2Z"/>
<path fill="#cfa155" d="M489.8,2328.8 510.2,2341 518.3,2365.5 534.6,2369.6 542.8,2385.9 522.4,2381.8 510.2,2369.6Z"/>
<path fill="#a3dbd3" d="M946.9,800 952.1,797.9 955.9,802.6 951.5,806.4Z"/>
<path fill="#a3dbd3" d="M1193.1,1274.4 1216.2,1269.2 1216.2,1315.4 1200.8,1302.6 1195.6,1287.2Z"/>
<path fill="#f5eedc" d="M739.9,1180.5 767.8,1177 786.5,1182.9 802.8,1185.2 833.1,1189.9 833.1,1199.2 819.1,1213.2 816.8,1220.2 809.8,1201.5 800.5,1189.9 777.2,1194.5 763.2,1192.2 749.2,1189.9Z"/>
<path fill="#ead5a0" d="M739.9,1208.5 753.8,1199.2 777.2,1192.2 800.5,1187.5 812.1,1199.2 816.8,1217.8 807.5,1236.5 791.1,1236.5 777.2,1231.8 758.5,1227.2 749.2,1217.8Z"/>
<path fill="#ead5a0" d="M742.2,1285.4 751.5,1283.1 752.7,1297.1 749.2,1308.7 742.7,1306.4Z"/>
<path fill="#a3dbd3" d="M305.8,569 284.8,589.9 283,607.4 281.3,624.9 276,642.4 275.2,646.7 360.8,646.7 360.8,642.4 355.6,624.9 357.3,607.4 360.8,589.9 381.8,569Z"/>
<path fill="#def0ed" d="M311.9,569 290.9,589.9 289.2,607.4 287.4,624.9 282.2,642.4 281.3,646.7 357.3,646.7 357.3,642.4 352.1,624.9 353.8,607.4 357.3,589.9 378.3,569Z"/>
<path fill="#f5eedc" d="M318.9,569 297.9,589.9 296.2,607.4 294.4,624.9 289.2,642.4 288.3,646.7 337.2,646.7 338.1,642.4 345.1,624.9 348.6,607.4 352.1,589.9 371.3,569Z"/>
<path fill="#ead5a0" d="M324.1,569 304.9,589.9 303.1,607.4 299.7,624.9 294.4,642.4 293.5,646.7 332,646.7 332.9,642.4 338.1,624.9 343.4,607.4 345.1,589.9 365.2,569Z"/>
<path fill="#cfa155" d="M329.4,569 320.6,589.9 313.6,607.4 304.9,624.9 297.9,642.4 297,646.7 325,646.7 325.9,642.4 329.4,624.9 336.4,607.4 339.9,589.9 357.3,569Z"/>
<path fill="#f5eedc" d="M594.1,1293 623.8,1293 627.3,1321 616.8,1345.5 609.8,1369.9 616.8,1387.4 613.3,1411.9 602.8,1415.4 595.8,1387.4 590.6,1345.5Z"/>
<path fill="#f5eedc" d="M798.6,1345.5 840.6,1338.5 858,1293 1008.4,1293 1008.4,1439.9 959.4,1425.9 914,1401.4 889.5,1387.4 879,1380.4 872,1404.9 865,1425.9 847.6,1446.9 842.3,1474.8 840.6,1502.8 847.6,1527.3 868.5,1537.8 889.5,1555.2 882.5,1576.2 854.5,1590.2 837.1,1590.2 816.1,1579.7 802.1,1593.7 791.6,1607.7 781.1,1621.7 756.6,1635.7 746.2,1649.7 744.4,1663.6 735.7,1660.1 735.7,1635.7 725.2,1621.7 714.7,1600.7 711.2,1579.7 721.7,1565.7 739.2,1558.7 749.7,1576.2 756.6,1558.7 777.6,1548.3 798.6,1544.8 809.1,1530.8 802.1,1513.3 791.6,1495.8 781.1,1474.8 774.1,1453.8 781.1,1436.4 791.6,1415.4 795.1,1401.4 777.6,1404.9 770.6,1394.4 781.1,1380.4 784.6,1366.4Z"/>
<path fill="#f5eedc" d="M690.2,1523.8 707.7,1516.8 725.2,1527.3 728.7,1544.8 714.7,1565.7 700.7,1562.2 690.2,1544.8Z"/>
<path fill="#def0ed" d="M700,1548.3 709.4,1549 709.4,1559.4 700.7,1558.7Z"/>
<path fill="#def0ed" d="M938.5,1293 1008.4,1293 1008.4,1338.5 966.4,1338.5 945.5,1321Z"/>
<path fill="#cfa155" d="M646.5,1293 784.6,1293 805.6,1314 798.6,1335 784.6,1345.5 767.1,1369.9 763.6,1397.9 753.1,1418.9 746.2,1446.9 749.7,1467.8 746.2,1495.8 735.7,1516.8 725.2,1509.8 707.7,1506.3 686.7,1523.8 676.2,1544.8 665.7,1565.7 651.7,1579.7 644.8,1600.7 627.3,1607.7 623.8,1628.7 634.3,1649.7 637.8,1670.6 634.3,1691.6 637.8,1712.6 630.8,1733.6 627.3,1754.5 623.8,1768.5 641.3,1737.1 658.7,1751 662.2,1782.5 679.7,1800 697.2,1796.5 714.7,1779 732.2,1765 749.7,1747.6 770.6,1765 791.6,1772 812.6,1786 840.6,1796.5 865,1814 889.5,1824.5 917.5,1835 945.5,1849 966.4,1852.4 987.4,1838.5 1008.4,1831.5 1008.4,1880.4 973.4,1876.9 945.5,1894.4 854.5,1929.4 469.9,1929.4 469.9,1849 489.2,1849 494.4,1831.5 503.1,1814 511.9,1793 520.6,1775.5 529.4,1751 539.9,1730.1 550.3,1719.6 555.6,1695.1 553.8,1670.6 550.3,1649.7 553.8,1635.7 560.8,1614.7 553.8,1593.7 557.3,1565.7 567.8,1544.8 574.8,1523.8 581.8,1502.8 595.8,1488.8 609.8,1453.8 616.8,1432.9 627.3,1415.4 644.8,1397.9 665.7,1390.9 679.7,1380.4 665.7,1366.4 651.7,1362.9 637.8,1342 644.8,1321Z"/>
<path fill="#ead5a0" d="M564.3,1698.6 578.3,1695.1 585.3,1712.6 581.8,1737.1 571.3,1733.6Z"/>
<path fill="#ead5a0" d="M478.7,1859.4 501.4,1854.2 517.1,1873.4 520.6,1901.4 522.4,1929.4 480.4,1929.4Z"/>
<path fill="#ead5a0" d="M658.7,1901.4 697.2,1890.9 714.7,1901.4 735.7,1915.4 658.7,1915.4Z"/>
<path fill="#cfa155" d="M763.6,1649.7 781.1,1635.7 788.1,1632.2 784.6,1649.7 777.6,1663.6 774.1,1684.6 767.1,1705.6 756.6,1719.6 742.7,1740.6 735.7,1751 746.2,1719.6 760.1,1695.1 765.4,1670.6Z"/>
<path fill="#cfa155" d="M725.2,1698.6 737.4,1695.1 739.2,1705.6 725.2,1712.6Z"/>
<path fill="#a5691b" d="M627.3,1467.8 644.8,1453.8 655.2,1453.8 658.7,1481.8 660.5,1509.8 658.7,1537.8 644.8,1551.7 630.8,1565.7 616.8,1579.7 609.8,1597.2 616.8,1614.7 609.8,1635.7 606.3,1663.6 609.8,1684.6 616.8,1705.6 613.3,1726.6 616.8,1747.6 606.3,1758 602.8,1772 592.3,1775.5 588.8,1758 595.8,1740.6 595.8,1719.6 588.8,1702.1 585.3,1677.6 574.8,1656.6 578.3,1635.7 588.8,1618.2 585.3,1597.2 595.8,1576.2 602.8,1551.7 606.3,1523.8 613.3,1502.8 623.8,1488.8Z"/>
<path fill="#a5691b" d="M574.8,1807 585.3,1803.5 590.6,1831.5 581.8,1831.5Z"/>
<path fill="#a5691b" d="M695.5,1464.3 705.9,1464.3 705.9,1474.8 696.5,1474.8Z"/>
<path fill="#a5691b" d="M711.2,1436.4 718.2,1434.6 718.9,1443.4 711.9,1444.1Z"/>
<path fill="#704008" d="M623.8,1513.3 637.8,1506.3 657,1509.8 657,1537.8 644.8,1544.8 630.8,1548.3 620.3,1558.7 609.8,1572.7 602.8,1579.7 606.3,1558.7 613.3,1537.8 616.8,1523.8Z"/>
<path fill="#704008" d="M585.3,1635.7 599.3,1628.7 606.3,1649.7 602.8,1670.6 595.8,1677.6 587.1,1663.6 581.8,1649.7Z"/>
<path fill="#ead5a0" d="M739,1208.9 756.4,1198.4 798.4,1194.9 798.4,1233.4 763.4,1229.9 749.4,1219.4Z"/>
</g>
<path fill="#fff" stroke="#000" stroke-width="4" stroke-linejoin="round" d="M546.1,237.3 553.6,250.9 561.2,266.1 562.7,281.2 556.7,291.8 546.1,296.4 538.5,290.3 533.9,278.2 529.4,269.1 535.5,257 541.5,247.9ZM1226.9,1608 1232.2,1616.8 1249.7,1616.8 1251.4,1623.8 1244.4,1630.8 1240.9,1641.3 1232.2,1651.7 1221.7,1660.5 1207.7,1669.2 1199,1676.2 1197.2,1671 1205.9,1657 1218.2,1644.8 1225.2,1630.8 1228.7,1620.3ZM1176.2,1683.2 1181.5,1690.2 1176.2,1700.7 1167.5,1699 1171,1690.2Z"/>
<path fill="none" stroke="#000" stroke-width="3.6" stroke-linejoin="round" stroke-linecap="round" d="M533.9,216.1 520.3,229.7 509.7,241.8 502.1,260 494.5,281.2 487,290.3 497.6,293.3 505.2,302.4 511.2,320.6 515.8,341.8 526.4,353.9 535.5,363 553.6,364.5 577.9,361.5 596.1,369.1 608.2,381.2 620.3,394.8 635.5,393.3 656.7,391.8 674.8,390.3 683.9,394.8 677.9,411.5 671.8,432.7 674.8,463 690,487.3 671.8,505.5 690,523.6 699.1,541.8 705.2,560M371.8,332.7 359.7,338.8 347.6,344.8 338.5,341.8 335.5,350.9M303.6,553.9 320.3,563 335.5,572.1 347.6,582.7 359.7,587.3 371.8,590.3 383.9,585.8 402.1,593.3 414.2,605.5 429.4,608.5 450.6,620M705.2,560 694.5,541.8 687,528.2 674.8,538.8 659.7,534.2 656.7,541.8 605.2,541.8 603.6,560 626.4,563 627.9,575.2 597.6,581.2 596.1,596.4 611.2,620M941.5,320.6 932.4,329.7 917.3,338.8 911.2,350.9 915.8,360 924.8,361.5 921.8,367.6 908.2,372.1 896.1,378.2 896.1,390.3 888.5,400.9 899.1,413 911.2,426.7M911.2,426.7 929.4,425.2 933.9,432.7 932.4,446.4 943,455.5 949.1,469.1 940,481.2 937,502.4 941.5,523.6 946.1,538.8 956.7,549.4 971.8,558.5 985.5,553.9 993,546.4 1011.2,543.3 1026.4,534.2 1046.1,537.3M1032.4,399.4 1029.4,417.6 1023.3,431.2 1005.2,437.3 999.7,461.5 1006.7,478.2 1015.8,487.3 1025.8,488.8 1032.4,508.5 1041.5,526.7 1046.1,537.3M1141.5,405.5 1126.4,423.6 1120.3,438.8 1124.8,460 1133.9,475.2 1135.5,490.3 1127.9,505.5 1120.3,519.1M1046.1,537.3 1068.8,538.8 1071.8,528.2 1065.8,522.1 1068.8,516.1 1080.9,519.1 1096.1,514.5 1103.6,513 1109.7,519.1 1120.3,519.1M1120.3,519.1 1132.4,528.2 1144.5,522.1 1159.7,520.6 1171.8,526.7 1180.9,522.1 1190,502.4 1199.1,484.2 1210,466.1M696.1,560 708.2,563 723.3,575.2 741.5,570.6 749.1,578.2 750.6,569.1 765.8,563 777.9,555.5 793,550.9 797.6,538.8 809.7,532.7 823.3,526.7 820.3,520.6 799.1,519.1 799.1,508.5 794.5,493.3 793,479.7 780.9,469.1 773.3,458.5 780.9,461.5 793,466.1 805.2,469.1 823.3,467.6 838.5,479.7 847.6,463 865.8,458.5 883.9,452.4 902.1,444.8 915.8,434.2 911.2,426.7M823.3,526.7 841.5,532.7 847.6,553.9 852.1,584.2 847,600M971.8,558.5 974.8,620M923.3,620 932.4,593.3 971.8,593.3M1190,492.7 1200.5,476.9 1211,464.7 1221.5,455.9M1401.5,637.8 1398,658.7 1392.8,676.2 1382.3,697.2 1375.3,718.2 1364.8,735.7 1350.8,749.7 1329.9,767.1 1312.4,779.4M1312.4,779.4 1329.9,788.1 1328.1,802.1 1319.4,816.1 1305.4,826.6 1294.9,847.6 1291.4,868.5 1280.9,896.5 1270.4,914 1259.9,930.1M1312.4,779.4 1336.9,777.6 1350.8,784.6 1356.1,802.1 1354.3,830.1 1347.3,844.1 1361.3,858 1371.8,868.5 1387.6,870.3 1385.8,882.5 1375.3,893 1370.1,907 1378.8,917.5 1385.8,930.1M1543.1,693 1536.2,707.7 1522.2,716.4 1511.7,735.7 1506.4,749.7 1509.9,770.6 1504.7,788.1 1506.4,805.6 1509.9,819.6 1497.7,826.6 1480.2,824.8 1466.2,831.8 1452.2,844.1 1434.8,852.8 1420.8,858 1412,875.5 1406.8,900 1410.3,930.1M1557.1,697.2 1560.6,721.7 1565.9,749.7 1571.1,777.6 1578.1,805.6 1586.9,830.1 1585.1,849.3M1698.7,761.9 1686.5,772.4 1677.8,788.1 1669,802.1 1656.8,812.6 1651.5,830.1 1655,844.1 1649.8,856.3 1641,863.3 1627.1,851 1609.6,849.3 1595.6,847.6 1585.1,849.3M1585.1,849.3 1588.6,865 1578.1,879 1565.9,889.5 1550.1,900 1539.7,910.5 1522.2,914 1504.7,917.5 1487.2,914 1476.7,919.2M1656.8,812.6 1672.5,816.1 1686.5,805.6 1700.5,802.1 1693.5,819.6 1704,824.8 1714.5,833.6 1725,816.1 1749.4,814.3 1773.9,817.8M1649.8,856.3 1658.5,851 1672.5,858 1686.5,851 1704,847.6 1698.7,861.5 1707.5,875.5 1721.5,868.5 1735.5,858 1752.9,854.5 1766.9,847.6 1780.9,851M1578.1,879 1585.1,889.5 1602.6,893 1620.1,886 1637.6,889.5 1655,896.5 1665.5,910.5 1679.5,900 1697,903.5 1714.5,910.5 1732,903.5 1749.4,896.5 1770.4,893M1665.5,910.5 1679.5,921 1693.5,930.1M1693.5,930.1 1714.5,942 1730.2,952.4M1679.5,938.5 1683,952.4 1669,962.9 1676,980.4 1693.5,983.9 1700.5,975.2M1676,917.5 1679.5,938.5M1476.7,919.2 1476.7,928 1480.2,942 1469.7,952.4 1459.2,955.9 1448.7,964.7 1434.8,962.9 1420.8,955.9 1413.8,949M1413.8,949 1399.8,955.9 1392.8,969.9 1389.3,983.9 1399.8,990.9 1396.3,1004.9 1399.8,1029.4M1385.8,930.1 1396.3,942 1413.8,949M1410.3,930.1 1410.3,938.5 1413.8,949M1399.8,1029.4 1399.8,1046.9 1396.3,1064.3 1403.3,1081.8 1406.8,1099.3 1403.3,1111.5M1399.8,1029.4 1378.8,1036.4 1364.8,1039.9 1347.3,1045.1 1329.9,1039.9 1312.4,1045.1 1301.9,1025.9 1291.4,1039.9 1273.9,1038.1 1259.9,1032.9 1263.4,1018.9 1252.9,1029.4M1259.9,930.1 1256.4,935 1251.2,962.9 1247.7,990.9 1249.4,1011.9 1252.9,1029.4M1190,926.2 1259.9,931.5M1252.9,1029.4 1245.9,1053.8 1235.5,1081.8 1228.5,1102.8 1214.5,1113.3 1204,1127.3 1190,1134.3M1403.3,1111.5 1417.3,1102.8 1434.8,1092.3 1452.2,1081.8 1462.7,1078.3 1476.7,1081.8 1480.2,1092.3 1494.2,1092.3 1511.7,1097.6 1532.7,1106.3 1546.6,1109.8 1560.6,1123.8 1567.6,1130.8 1588.6,1130.8 1602.6,1134.3 1611.3,1141.3 1606.1,1151.7 1597.3,1158.7 1595.6,1169.2 1588.6,1179.7 1586.9,1190.2 1595.6,1200.7 1616.6,1214.7M1595.6,1200.7 1578.1,1204.2 1571.1,1214.7 1574.6,1232.2 1576.4,1249.7 1569.4,1263.6 1560.6,1277.6 1546.6,1281.1 1544.9,1298.6M1544.9,1298.6 1550.1,1309.1 1572.9,1312.6M1544.9,1298.6 1536.2,1305.6 1530.9,1326.6 1518.7,1333.6 1497.7,1338.8 1476.7,1344.1 1459.2,1351 1441.7,1354.5M1403.3,1111.5 1399.8,1102.8 1389.3,1095.8 1382.3,1106.3 1375.3,1109.8 1375.3,1130.8 1361.3,1137.8 1357.8,1158.7 1364.8,1169.2 1354.3,1183.2 1361.3,1193.7 1361.3,1207.7 1340.3,1219.9 1326.4,1216.4 1305.4,1216.4 1291.4,1223.4 1284.4,1219.9 1263.4,1226.9 1249.4,1239.2 1239,1253.1M1329.9,1120.3 1359.6,1121 1361.3,1138.5 1329.9,1139.5 1329.9,1120.3M1190,1228.7 1211,1237.4 1237.2,1249.7 1239,1253.1 1237.2,1270.6M1237.2,1270.6 1252.9,1265.4 1273.9,1268.9 1294.9,1272.4 1298.4,1279.4 1305.4,1284.6 1308.9,1277.6 1329.9,1275.9 1343.8,1272.4 1361.3,1277.6 1364.8,1291.6 1368.3,1305.6 1371.8,1317.8 1385.8,1321.3 1385.8,1337.1 1382.3,1351 1392.8,1361.5 1396.3,1368.5 1410.3,1366.8 1417.3,1359.8 1441.7,1354.5M1441.7,1354.5 1455.7,1358 1466.2,1363.3 1459.2,1370.3 1448.7,1377.3M1237.2,1270.6 1225,1284.6 1214.5,1298.6 1207.5,1316.1 1197,1330.1 1190,1337.1M1190,1356.3 1204,1358 1225,1365 1245.9,1370.3 1270.4,1372 1280.9,1379 1284.4,1396.5 1291.4,1414 1296.6,1428 1319.4,1430.1M900,1400 921,1407 945.5,1417.5 969.9,1429.7 990.9,1436.7 1004.9,1442 1017.1,1455.9 1004.9,1473.4 994.4,1487.4 990.9,1501.4 980.4,1515.4 1004.9,1518.9 1032.9,1522.4 1053.8,1524.1 1064.3,1520.6 1078.3,1515.4 1088.8,1504.9 1102.8,1497.9 1109.8,1487.4 1115,1469.9 1118.5,1457.7 1123.8,1435 1127.3,1414 1127.3,1400M1088.8,1403.5 1109.8,1405.2 1127.3,1407M1118.5,1457.7 1130.8,1455.9 1139.5,1462.9 1144.8,1482.2 1144.8,1511.9M1144.8,1482.2 1172.7,1483.9 1197.2,1490.9 1221.7,1494.4 1226.9,1485.7 1246.2,1475.2 1270.6,1473.4 1295.1,1473.4 1316.1,1471.7M1144.8,1511.9 1158.7,1510.1 1179.7,1513.6 1204.2,1520.6 1225.2,1531.1 1239.2,1543.4 1249.7,1552.1 1267.1,1555.6 1279.4,1559.1 1274.1,1571.3 1267.1,1581.8 1277.6,1583.6M1144.8,1511.9 1123.8,1518.9 1102.8,1529.4 1081.8,1546.9 1064.3,1564.3 1046.9,1585.3 1029.4,1602.8 1015.4,1613.3 1006.6,1627.3 1003.1,1651.7 997.9,1676.2 994.4,1700.7 987.4,1714.7 983.9,1732.2 987.4,1747.9M1015.4,1615 1039.9,1611.5 1053.8,1623.8 1067.8,1637.8 1071.3,1643 1080.1,1636 1095.8,1650 1116.8,1658.7 1130.8,1671 1144.8,1679.7 1155.2,1693.7 1165.7,1699 1151.7,1711.2 1151.7,1732.2M1284.6,1400 1295.1,1414 1295.1,1428 1316.1,1431.5 1323.1,1442 1333.6,1445.5M567.3,1880 569.3,1896.3 557.1,1908.6 553,1924.9 542.8,1933 540.8,1953.4 534.6,1969.8 536.7,2002.4 526.5,2018.7 530.6,2043.2 540.8,2063.6 538.7,2092.2 561.2,2094.2 555,2102.4 530.6,2104.4 551,2116.6 542.8,2133 538.7,2149.3 542.8,2165.6 534.6,2181.9 520.4,2198.2 522.4,2214.6 512.2,2230.9 510.2,2243.1 493.8,2251.3 481.6,2259.4 479.6,2271.7 485.7,2283.9 493.8,2292.1 514.2,2298.2 520.4,2308.4 518.3,2328.8 532.6,2345.1 575.4,2345.1 612.2,2345.1 618.3,2355.3M644,2367.6 644,2441M972.6,600 975.1,612.8 985.4,628.2 1000.8,643.6 1021.3,656.4 1036.7,664.1 1046.9,671.8 1055.9,676.9 1039.2,717.9 1021.3,759 1003.3,797.4 990.5,820.5 986.7,828.2 990.5,838.5 998.2,848.7 1005.9,861.5 1012.3,876.9 1013.6,887.2 1022.6,900 1034.1,910.3 1049.5,917.9 1077.7,920.5 1129,924.4 1210,928.2M995.6,846.2 990.5,864.1 987.9,882.1 982.8,894.9 885.4,897.4M770,905.1 780.3,901.3 795.6,900 798.2,887.2 808.5,878.2 816.2,869.2 841.8,869.2 849.5,879.5 859.7,889.7 870,897.4 877.7,892.3 885.4,897.4 881.5,912.8 884.1,933.3 882.8,953.8 884.1,969.2 903.3,969.2 923.8,971.8 936.7,976.9 936.7,989.7 931.5,1000 939.2,1020M846.9,600 854.6,612.8 850.8,625.6 859.7,635.9 871.3,646.2 880.3,648.7 882.8,628.2 893.1,617.9 903.3,619.2 911,628.2 923.8,623.1 923.8,612.8 929,600M1170,600 1180.3,612.8 1187.9,628.2 1198.2,638.5 1210,639.7M770,1002.6 782.8,1015.4 787.9,1020M770,1005.1 782.8,1016.7 803.3,1019.2 818.7,1024.4 831.5,1025.6 841.8,1035.9 859.7,1041 872.6,1052.6 898.2,1053.8 909.7,1057.7 923.8,1043.6 934.1,1030.8 940.5,1017.9 936.7,1000M909.7,1057.7 918.7,1066.7 923.8,1084.6 925.1,1105.1 914.9,1107.7 923.8,1117.9 927.7,1133.3 929,1147.4 990.5,1148.2 989.2,1156.4 985.4,1164.1 987.9,1176.9 998.2,1185.9 1008.5,1191 1012.3,1202.6 1017.4,1212.8 1011,1235.9 1000.8,1256.4 996.9,1264.1 1007.2,1270.5 996.9,1275.6 998.2,1282.1M1012.3,1202.6 1023.8,1200 1034.1,1192.3 1043.1,1182.1 1064.9,1176.9 1080.3,1183.3 1098.2,1193.6 1111,1189.7 1123.8,1192.3 1136.7,1187.2 1146.9,1179.5 1145.6,1194.9 1136.7,1202.6 1164.9,1205.1M1210,1128.2 1193.1,1135.9 1180.3,1148.7 1170,1166.7 1163.6,1184.6 1164.9,1205.1 1170,1217.9 1177.7,1225.6 1193.1,1232.1 1210,1239.7M996.9,1264.1 964.9,1247.4 934.1,1248.2 876.4,1260.3 858.5,1291 859.7,1307.7 846.9,1347.4M998.2,1282.1 1005.9,1302.6 1004.6,1320.5 1002.1,1341 1011,1343.6 1026.4,1347.4 1041.8,1347.4 1053.3,1342.3 1059.7,1347.4 1075.1,1348.7 1081.5,1361.5 1084.1,1379.5 1087.9,1400 1093.1,1406.4 1105.9,1403.8 1116.2,1400 1126.4,1407.7 1125.1,1420M1210,1312.8 1200.8,1330.8 1185.4,1346.2 1170,1356.4 1154.6,1366.7 1141.8,1379.5 1134.1,1392.3 1131.5,1405.1 1126.4,1407.7M1170,1356.4 1193.1,1359 1210,1356.4M552.1,1910.1 571.3,1897.9 564.3,1876.9 559.1,1852.4 560.8,1831.5 571.3,1821 585.3,1812.2 583.6,1786 588.8,1768.5 595.8,1754.5 602.8,1747.6 602.8,1719.6 595.8,1712.6 594.1,1695.1 587.1,1677.6 581.8,1656.6 585.3,1635.7 594.1,1618.2 602.8,1614.7 599.3,1590.2 606.3,1565.7 616.8,1544.8 630.8,1527.3 639.5,1509.8 653.5,1508 648.3,1488.8 651.7,1467.8 648.3,1446.9 651.7,1439.9 646.5,1432.9 655.2,1418.9 676.2,1411.9 690.2,1404.9 699,1371.7 693.7,1366.4 672.7,1368.2 667.5,1345.5 660.5,1321 651.7,1307 646.5,1300M693.7,1366.4 707.7,1345.5 721.7,1342 726.9,1333.2 740.9,1342 763.6,1342 781.1,1347.2 788.1,1366.4 795.1,1352.4 803.8,1340.2 840.6,1338.5 846.9,1347.6M846.9,1347.6 854.5,1352.4 868.5,1369.9 889.5,1387.4 900,1400M254.7,719.4 252.9,733.4 245.9,740.3 249.4,749.1 261.7,745.6 277.4,750.8 284.4,763.1 294.9,766.6 301.9,761.3 305.4,743.8 312.4,726.4 321.1,715.9 329.9,701.9 347.3,694.9 371.8,684.4 389.3,673.9 403.3,659.9 413.8,645.9 419,632 422.5,625 421.5,611 420.8,602.9M450.5,621.5 466.2,635.5 480.2,649.4 490.7,663.4 494.2,673.9 511.7,680.9 525.7,679.2 539.7,673.9 553.6,677.4 567.6,673.9 585.1,682.7 597.3,691.4 585.1,708.9 574.6,726.4 588.6,729.9 600.8,745.6 604.3,729.9 607.8,708.9 613.1,677.4 618.3,642.4 613.1,621.5 602.6,607.5 597.3,590M600.8,745.6 574.6,743.8 557.1,749.1 536.2,752.6 518.7,761.3 502.9,771.8 497.7,789.3 490.7,803.3 494.2,817.3 480.2,824.3 471.5,838.3 466.2,848.7 473.2,866.2 480.2,880.2 490.7,897.7 497.7,908.2 492.4,916.9 518.7,920.4 525.7,936.2 555.4,936.2 567.6,925.7 578.1,918.7 578.1,969.4M471.5,838.3 585.1,871.5 707.5,930.9M578.1,969.4 592.1,969.4 609.6,967.6 627.1,969.4 644.5,972.9 658.5,964.1 672.5,957.1 690,946.6 707.5,930.9 728.5,927.4 752.9,926.4 751.2,953.6 756.4,985.1 766.9,1002.6 790,1018.3M707.5,930.9 719.7,916.9 739,918.7 756.4,913.4 770.4,901.2 790,899.4M613.1,969.4 627.1,992.1 642.8,1020.1 634.1,1034.1 634.1,1062 635.8,1076 627.1,1090 620.1,1104 627.1,1118 620.1,1128.5 627.1,1145.9 637.6,1149.4 623.6,1166.9 611.3,1180.9 614.8,1191.4M614.8,1191.4 604.3,1194.9 599.1,1212.4 586.9,1215.9M614.8,1191.4 627.1,1212.4 634.1,1236.9 648,1254.3 642.8,1271.8 644.5,1289.3 651.5,1306.8 660.3,1329.9"/>
<path fill="none" stroke="#000" stroke-width="4.2" stroke-linejoin="round" d="M180.9,293.3 199.1,293.3 208.2,300.9 220.3,304.8 235.5,300 250.6,293.3 264.2,285.8 277.9,278.2 290,279.7 302.1,283.6 317.3,285.8 332.4,293.3 344.5,305.5 353.6,314.5 361.2,325.2 367.3,335.2 371.8,332.7 371.8,325.2 367.3,311.5 377.9,302.4 390,293.3 399.1,284.2 408.2,281.2 407.6,260 414.2,246.4 424.8,235.8 435.5,226.7 447.6,232.7 456.7,223.6 462.7,219.1 477.9,220.6 490,216.1 502.1,208.5 517.3,200.9 526.4,190.3 538.5,183.6 550.6,182.7 559.7,188.8 558.2,197.9 547.6,205.5 535.5,210 533.9,216.1 538.5,225.2 545.2,234.2 549.1,232.7 562.7,228.2 580.9,220.6 596.1,216.1 593,205.5 590,196.4 597.6,192.7 605.2,199.4 608.2,213 623.3,214.5 638.5,216.1 647.6,222.1 655.2,228.2 658.2,240.3 668.8,246.4 690,244.8 710,241.8 708.2,242.4 727.9,242.4 735.5,250.9 750.6,258.5 770.3,260 783.9,252.4 793,244.8 811.2,242.4 835.5,240.3 859.7,238.8 871.8,240.3 853.6,244.2 838.5,247.9 847.6,257 855.2,266.1 861.2,264.5 871.8,270.6 883.9,267.6 896.1,276.7 906.7,285.8 911.2,291.8 902.1,297.9 896.1,308.5 887,314.5 883.9,317 902.1,313 920.3,310.6 932.4,313 941.5,320.6 953.6,325.2 965.8,332.7 976.4,341.8 985.5,353.9 987,366.1 996.1,370.6 1008.2,378.2 1018.8,387.3 1027.9,393.3 1032.4,399.4 1053.6,400.9 1071.8,402.4 1083.9,399.4 1108.2,399.4 1129.4,402.4 1141.5,405.5 1162.7,411.5 1177.9,420.6 1190,431.2 1202.1,444.8 1205.7,445.5 1211,455.9 1221.5,455.9 1232,466.4 1237.2,490.9 1245.9,515.4 1254.7,532.9 1268.7,541.6 1275.7,553.8 1273.9,564.3 1265.2,574.8 1256.4,587.1 1249.4,599.3 1247.7,609.1 1277.4,607 1301.9,606.3 1324.6,608.7 1322.2,627.3 1325.7,641.3 1328.1,630.8 1333.4,625.5 1347.3,622 1361.3,621 1375.3,625.5 1389.3,632.5 1401.5,637.8 1417.3,643 1427.8,657 1440,644.8 1448.7,658.7 1455.7,676.2 1461,692 1466.2,690.2 1480.2,685 1494.2,679.7 1508.2,683.2 1522.2,690.2 1543.1,693 1564.1,697.2 1585.1,694.4 1602.6,695.5 1616.6,702.4 1634.1,711.2 1651.5,721.7 1669,735.7 1683,749.7 1697,758.4 1714.5,765.4 1735.5,770.6 1756.4,770.6 1765.2,779.4 1770.4,795.1 1775.7,816.1 1780.9,837.1 1782.7,854.5 1780.9,875.5 1777.4,893 1770.4,907 1759.9,921 1749.4,930.1 1745.9,931.5 1732,949 1714.5,962.9 1704,975.2 1693.5,987.4 1683,1001.4 1672.5,1015.4 1662,1031.1 1651.5,1036.4 1642.8,1046.9 1639.3,1064.3 1639.3,1088.8 1641,1109.8 1642.8,1130.8 1639.3,1151.7 1635.8,1172.7 1634.1,1190.2 1623.6,1204.2 1616.6,1214.7 1614.8,1232.2 1616.6,1253.1 1606.1,1267.1 1595.6,1284.6 1581.6,1302.1 1572.9,1316.1 1572.9,1337.1 1557.1,1347.6 1543.1,1354.5 1539.7,1370.3 1522.2,1372 1501.2,1368.5 1480.2,1372 1462.7,1375.5 1448.7,1377.3 1434.8,1389.5 1424.3,1400 1410.3,1403.5 1392.8,1410.5 1371.8,1421 1354.3,1430.1 1354.5,1435 1333.6,1452.4 1323.1,1462.9 1317.8,1483.9 1321.3,1504.9 1323.1,1525.9 1317.8,1546.9 1309.1,1560.8 1291.6,1574.8 1277.6,1588.8 1267.1,1609.8 1256.6,1627.3 1246.2,1641.3 1232.2,1655.2 1214.7,1669.2 1200.7,1679.7 1190.2,1697.2 1183.2,1714.7 1169.2,1725.2 1155.2,1735.7 1144.8,1753.1 1127.3,1765.4 1106.3,1774.1 1088.8,1768.9 1064.3,1772.4 1046.9,1765.4 1029.4,1758.4 1008.4,1758.4 990.9,1747.9 983.9,1751.4 994.4,1767.1 1011.9,1774.1 1025.9,1784.6 1031.1,1791.6 1022.4,1805.6 1029.4,1816.1 1043.4,1821.3 1046.9,1837.1 1036.4,1854.5 1022.4,1868.5 1015.4,1882.5 990.9,1893 962.9,1900 935,1905.2 900,1910.5 877.4,1908.6 857,1904.5 863.1,1916.7 865.1,1933 857,1945.3 859,1965.7 840.6,1977.9 808,1980 787.6,1973.8 769.2,1967.7 763.1,1980 765.2,2006.5 775.4,2018.7 791.7,2018.7 801.9,2014.6 814.1,2020.8 812.1,2037.1 797.8,2039.9 787.6,2033 771.3,2035 787.6,2043.2 771.3,2051.4 759,2063.6 759,2084 750.9,2096.2 742.7,2108.5 722.3,2114.6 701.9,2120.7 685.6,2141.1 679.5,2153.4 689.7,2165.6 706,2177.8 726.4,2181.9 740.7,2188 740.7,2202.3 730.5,2210.5 722.3,2218.6 701.9,2230.9 685.6,2243.1 677.4,2259.4 671.3,2275.8 653,2283.9 640.7,2275.8 644.8,2288 632.6,2300.2 624.4,2316.6 630.5,2332.9 640.7,2345.1 653,2357.4 636.6,2353.3 618.3,2355.3 599.9,2363.5 579.5,2367.6 571.4,2381.8 563.2,2402.2 551,2406.3 534.6,2402.2 542.8,2385.9 522.4,2381.8 510.2,2369.6 514.2,2353.3 506.1,2337 491.8,2328.8 481.6,2312.5 473.4,2296.2 475.5,2279.8 469.4,2263.5 461.2,2247.2 453,2230.9 457.1,2214.6 469.4,2202.3 461.2,2186 453,2173.8 440.8,2165.6 424.5,2161.5 412.2,2173.8 406.1,2165.6 412.2,2161.5 428.6,2153.4 440.8,2141.1 457.1,2141.1 469.4,2128.9 481.6,2120.7 487.7,2108.5 483.6,2096.2 493.8,2079.9 495.9,2059.5 502,2043.2 508.1,2022.8 510.2,2002.4 497.9,1994.2 481.6,2000.4 469.4,1998.3 465.3,1977.9 471.4,1961.6 475.5,1941.2 485.7,1924.9 489.8,1908.6 483.6,1892.2 481.6,1880 478.7,1880.4 475.2,1859.4 478.7,1849 489.2,1849 494.4,1831.5 503.1,1814 511.9,1793 520.6,1775.5 529.4,1751 539.9,1730.1 543.4,1719.6 539.9,1709.1 548.6,1695.1 546.9,1670.6 543.4,1649.7 541.6,1621.7 550.3,1611.2 553.8,1593.7 548.6,1572.7 557.3,1551.7 564.3,1527.3 571.3,1506.3 576.6,1474.8 576.6,1464.3 581.8,1439.9 581.8,1415.4 581.8,1390.9 580.1,1376.9 588.8,1369.9 590.6,1345.5 594.1,1321 594.1,1300 595.6,1299.8 593.8,1271.8 590.3,1247.3 586.9,1215.9 574.6,1205.4 553.6,1191.4 550.1,1180.9 532.7,1170.4 515.2,1159.9 494.2,1149.4 473.2,1139 455.7,1128.5 434.8,1118 420.8,1107.5 406.8,1093.5 396.3,1083 389.3,1072.5 385.8,1065.5 391,1055 385.8,1041 375.3,1023.6 364.8,1006.1 357.8,999.1 350.8,981.6 342.1,974.6 340.3,960.6 329.9,943.1 322.9,925.7 315.9,908.2 305.4,890.7 294.9,873.2 284.4,859.2 273.9,845.2 263.4,827.8 249.4,817.3 232,806.8 223.2,799.8 232,792.8 230.2,778.8 223.2,768.3 218,754.3 225,740.3 235.5,729.9 245.9,715.9 254.7,712.4 258.2,701.9 252.9,694.9 254.7,684.4 263.4,677.4 266.9,668.7 259.9,673.9 242.4,675.7 230.2,673.9 237.2,665.2 235.5,652.9 233.7,635.5 242.4,628.5 247.7,619.7 246.1,620 247.6,613 255.2,602.4 262.7,590.3 261.2,573.6 274.8,567.6 290,563 303.6,553.9 297.6,546.4 311.2,537.3 309.7,531.2 312.7,520.6 323.3,516.1 332.4,508.5 341.5,500.9 347.6,493.3 353.6,484.2 359.7,472.1 355.2,466.1 352.1,458.5 353.6,444.8 352.1,426.7 347.6,413 353.6,402.4 350.6,390.3 349.1,372.1 344.5,353.9 340,341.8 332.4,349.4 323.3,338.8 320.3,327.3 335.5,326.1 324.8,320.6 317.3,314.5 308.2,305.5 297.6,300 287,297.9 276.4,302.4 270.3,311.5 262.7,319.1 250.6,323.6 247.6,328.2 255.2,337.3 262.7,347.9 250.6,355.5 235.5,357 232.4,347.9 227.9,334.2 223.3,341.8 217.3,338.8 208.2,329.7 199.1,325.2 180.9,325.2ZM879.4,239.4 903.6,235.8 902.1,260 871.8,263 883.9,256.4 885.5,241.8ZM616.2,2363.5 632.6,2369.6 653,2375.7 661.1,2390 677.4,2406.3 701.9,2418.6 726.4,2430.8 759,2434.9 755,2445.1 726.4,2447.1 693.8,2443 661.1,2443 628.5,2441 604,2439 628.5,2426.7 620.3,2418.6 599.9,2410.4 591.8,2402.2 612.2,2394.1 620.3,2390 604,2385.9 587.7,2390 585.6,2377.8 604,2369.6ZM461.2,2004.4 481.6,2002.4 483.6,2018.7 477.5,2039.1 469.4,2055.4 455.1,2051.4 457.1,2031ZM444.9,2092.2 469.4,2088.1 475.5,2108.5 461.2,2124.8 449,2116.6ZM440.8,2369.6 465.3,2375.7 493.8,2390 522.4,2406.3 555,2418.6 571.4,2430.8 591.8,2426.7 604,2441 636.6,2449.2 661.1,2459.4 665.2,2467.5 628.5,2461.4 595.8,2451.2 563.2,2439 534.6,2430.8 522.4,2418.6 497.9,2410.4 473.4,2398.2 453,2385.9ZM502,2365.5 534.6,2363.5 559.1,2375.7 555,2390 538.7,2398.2 518.3,2390 502,2379.8ZM895.7,2341 910,2337 918.2,2324.7 930.4,2322.7 946.7,2326.8 959,2324.7 950.8,2337 938.6,2345.1 926.3,2349.2 910,2353.3 899.8,2347.2ZM942.6,2351.2 954.9,2339 967.1,2326.8 979.4,2322.7 995.7,2324.7 1010,2328.8 1007.9,2339 991.6,2343.1 979.4,2349.2 963,2355.3 950.8,2357.4ZM422.3,2213.2 431.7,2208.5 436.3,2217.8 438.6,2236.5 434,2250.5 424.7,2245.8 420,2227.2ZM424.7,2259.8 434,2261 441,2257.5 443.3,2266.8 436.3,2272.6 428.2,2270.3ZM430.5,2340.2 438.2,2337.9 442.1,2347.9 436.3,2354.2 432.1,2348.4Z"/>
<path fill="none" stroke="#000" stroke-width="5" stroke-linejoin="round" stroke-linecap="round" d="M596.7,177.6 602.1,181.8M626.4,185.8 633.9,190.9 640.9,194.8M655.2,187.9 659.1,195.8M293,323.6 297.6,319.1 301.5,317.6M202.1,348.5 206.7,352.4M787,230.3 796.1,232.7 804.5,232.1 805.8,226.1 799.1,227.3M753,232.7 759.1,233.6M876.4,196.4 880.3,190.3M907.6,224.2 916.7,220.6M985.5,357 984.5,372.1 980.9,385.8M1249.4,599.3 1232,609.8 1225,623.8 1211,641.3 1197,650 1190,651.7M1247.7,609.8 1242.4,630.8 1247.7,651.7 1258.2,665.7 1277.4,658.7 1294.9,651.7 1310.6,644.8 1321.1,627.3M1294.9,651.7 1287.9,672.7 1282.7,690.2M1455.7,676.2 1452.2,693.7 1448,707.7M1258.2,581.8 1268.7,580.1 1265.2,590.6 1279.2,592.3 1273.9,601 1289.7,599.3 1286.2,606.3M1228.5,620.3 1219.7,630.8 1207.5,641.3M1254.7,532.2 1259.2,530.1 1257.1,536.4M1440,643 1441.7,646.5M1314.3,1452.4 1319.6,1455.9M1316.1,1480.4 1318.9,1485.7M1321.3,1522.4 1323.8,1527.6M1265.4,1581.8 1268.9,1583.6M775.4,2441 808,2438.1M679.5,2472.4 687.6,2468.3M712.1,2454.5 714.2,2455.3M438.8,2063.6 440,2064.4M427.7,2105.2 428.6,2106M460.4,2071.8 470.2,2070.9M1210,644.9 1195.6,647.4 1180.3,652.6 1195.6,655.1 1210,650M445.6,2096.6 457.3,2089.6 471.3,2087.3 475.9,2096.6 471.3,2110.6 462,2115.3 452.6,2105.9 444.5,2100.1 445.6,2096.6M485.3,2096.6 496.9,2092 508.6,2093.1 503.9,2102.4 492.3,2105.9 484.1,2103.6 485.3,2096.6M442.1,2129.3 452.6,2117.6 457.3,2126.9 449.1,2135.1 442.1,2129.3M484.1,2110.6 492.3,2122.3 501.6,2125.8M452.6,2152.6 464.3,2150.2 474.8,2143.2 477.1,2133.9M466.6,2164.2 474.8,2159.6 478.3,2150.2M420,2175.9 434,2171.2 450.3,2173.5 459.6,2180.5 455,2189.9 462,2199.2M445.6,2201.5 459.6,2203.8 470.1,2208.5 473.6,2201.5 475.9,2213.2 485.3,2217.8M420,2208.5 429.3,2201.5 436.3,2208.5 438.6,2222.5 431.7,2231.8M443.3,2213.2 448,2227.2 445.6,2243.5 450.3,2259.8 448,2273.8M424.7,2217.8 434,2227.2 441,2236.5M420,2255.1 431.7,2259.8 441,2255.1 445.6,2266.8 436.3,2273.8 427,2271.4 420,2255.1M455,2255.1 464.3,2248.1 466.6,2259.8 459.6,2269.1M420,2283.1 434,2280.8 448,2285.4 462,2294.8 475.9,2301.7 473.6,2292.4M420,2301.7 429.3,2306.4 443.3,2304.1 457.3,2313.4 469,2308.7M420,2329.7 431.7,2322.7 445.6,2320.4 443.3,2329.7 457.3,2336.7 466.6,2332.1M429.3,2339 438.6,2336.7 443.3,2348.4 436.3,2355.4 431.7,2348.4 429.3,2339M448,2339 462,2343.7 455,2348.4M455,2353 471.3,2355.4 485.3,2362.4 496.9,2353M466.6,2362.4 480.6,2371.7 494.6,2374 489.9,2381M471.3,2395 485.3,2399.7 489.9,2409 506.2,2413.6 517.9,2406.6 508.6,2399.7M506.2,2369.3 520.2,2364.7 536.6,2365.9 548.2,2368.2 531.9,2372.8 513.2,2376.3M522.6,2385.7 536.6,2381 552.9,2376.3 559.9,2374 557.5,2383.3 545.9,2390.3 531.9,2392.7M550.5,2443.9 569.2,2446.3 587.8,2450.9 583.2,2443.9M601.8,2446.3 618.1,2450.9 629.8,2457.9 643.8,2455.6 662.4,2464.9 657.8,2453.3 643.8,2448.6M671.7,2476.6 685.7,2469.6 690.4,2473.1M569.2,2397.3 580.8,2392.7 583.2,2404.3 573.8,2409M573.8,2413.6 587.8,2418.3 583.2,2427.6M254.7,694.9 261.7,689.7 268.7,677.4 267.6,669.7M255.7,701.2 263.4,694.9 265.2,684.4"/>
</g>
<path d="M263.5,171V2478" stroke="#808080" stroke-opacity="0.05" stroke-width="1.6"/>
<path d="M599.5,171V2478" stroke="#808080" stroke-opacity="0.05" stroke-width="1.6"/>
<path d="M935.5,171V2478" stroke="#808080" stroke-opacity="0.05" stroke-width="1.6"/>
<path d="M1271.5,171V2478" stroke="#808080" stroke-opacity="0.05" stroke-width="1.6"/>
<path d="M1607.5,171V2478" stroke="#808080" stroke-opacity="0.05" stroke-width="1.6"/>
<path d="M199,265.6H1785" stroke="#808080" stroke-opacity="0.05" stroke-width="1.6"/>
<path d="M199,601.4H1785" stroke="#808080" stroke-opacity="0.05" stroke-width="1.6"/>
<path d="M199,937.2H1785" stroke="#808080" stroke-opacity="0.05" stroke-width="1.6"/>
<path d="M199,1273.0H1785" stroke="#808080" stroke-opacity="0.05" stroke-width="1.6"/>
<path d="M199,1608.8H1785" stroke="#808080" stroke-opacity="0.05" stroke-width="1.6"/>
<path d="M199,1944.6H1785" stroke="#808080" stroke-opacity="0.05" stroke-width="1.6"/>
<path d="M199,2280.4H1785" stroke="#808080" stroke-opacity="0.05" stroke-width="1.6"/>
<rect x="198" y="169.6" width="1588.5" height="2309.4" fill="none" stroke="#000" stroke-width="3.3"/>
<text x="387.4" y="75.8" font-family="Liberation Sans, sans-serif" font-size="59.4" textLength="210.8" lengthAdjust="spacingAndGlyphs">MERGE</text>
<text x="618.5" y="75.8" font-family="Liberation Sans, sans-serif" font-size="59.4" textLength="25.2" lengthAdjust="spacingAndGlyphs">-</text>
<text x="657.1" y="75.8" font-family="Liberation Sans, sans-serif" font-size="59.4" textLength="259.3" lengthAdjust="spacingAndGlyphs">Potencial</text>
<text x="941.2" y="75.8" font-family="Liberation Sans, sans-serif" font-size="59.4" textLength="66.1" lengthAdjust="spacingAndGlyphs">de</text>
<text x="1032.1" y="75.8" font-family="Liberation Sans, sans-serif" font-size="59.4" textLength="545.7" lengthAdjust="spacingAndGlyphs">Evapotranspiração</text>
<text x="698" y="142.4" font-family="Liberation Sans, sans-serif" font-size="59.4" textLength="176.7" lengthAdjust="spacingAndGlyphs">Válido</text>
<text x="895" y="142.4" font-family="Liberation Sans, sans-serif" font-size="59.4" textLength="127.5" lengthAdjust="spacingAndGlyphs">para</text>
<text x="1045" y="142.4" font-family="Liberation Sans, sans-serif" font-size="59.4" textLength="240.3" lengthAdjust="spacingAndGlyphs">04/2025</text>
<text x="32.0" y="282.3" font-family="Liberation Sans, sans-serif" font-size="59.4" textLength="141.0" lengthAdjust="spacingAndGlyphs">10°N</text>
<text x="112.0" y="617.3" font-family="Liberation Sans, sans-serif" font-size="59.4" textLength="61.0" lengthAdjust="spacingAndGlyphs">0°</text>
<text x="32.0" y="953.7" font-family="Liberation Sans, sans-serif" font-size="59.4" textLength="141.0" lengthAdjust="spacingAndGlyphs">10°S</text>
<text x="32.0" y="1289.4" font-family="Liberation Sans, sans-serif" font-size="59.4" textLength="141.0" lengthAdjust="spacingAndGlyphs">20°S</text>
<text x="32.0" y="1625" font-family="Liberation Sans, sans-serif" font-size="59.4" textLength="141.0" lengthAdjust="spacingAndGlyphs">30°S</text>
<text x="32.0" y="1960.8" font-family="Liberation Sans, sans-serif" font-size="59.4" textLength="141.0" lengthAdjust="spacingAndGlyphs">40°S</text>
<text x="32.0" y="2296.5" font-family="Liberation Sans, sans-serif" font-size="59.4" textLength="141.0" lengthAdjust="spacingAndGlyphs">50°S</text>
<text x="186.0" y="2545" font-family="Liberation Sans, sans-serif" font-size="59.4" textLength="155" lengthAdjust="spacingAndGlyphs">80°W</text>
<text x="522.0" y="2545" font-family="Liberation Sans, sans-serif" font-size="59.4" textLength="155" lengthAdjust="spacingAndGlyphs">70°W</text>
<text x="858.0" y="2545" font-family="Liberation Sans, sans-serif" font-size="59.4" textLength="155" lengthAdjust="spacingAndGlyphs">60°W</text>
<text x="1194.0" y="2545" font-family="Liberation Sans, sans-serif" font-size="59.4" textLength="155" lengthAdjust="spacingAndGlyphs">50°W</text>
<text x="1530.0" y="2545" font-family="Liberation Sans, sans-serif" font-size="59.4" textLength="155" lengthAdjust="spacingAndGlyphs">40°W</text>
<rect x="1828.7" y="2259.06" width="51.6" height="220.54" fill="#704008"/>
<rect x="1828.7" y="2039.12" width="51.6" height="220.54" fill="#a5691b"/>
<rect x="1828.7" y="1819.18" width="51.6" height="220.54" fill="#cfa155"/>
<rect x="1828.7" y="1599.24" width="51.6" height="220.54" fill="#ead5a0"/>
<rect x="1828.7" y="1379.30" width="51.6" height="220.54" fill="#f5eedc"/>
<rect x="1828.7" y="1159.36" width="51.6" height="220.54" fill="#def0ed"/>
<rect x="1828.7" y="939.42" width="51.6" height="220.54" fill="#a3dbd3"/>
<rect x="1828.7" y="719.48" width="51.6" height="220.54" fill="#5ab2a8"/>
<rect x="1828.7" y="499.54" width="51.6" height="220.54" fill="#1b7e76"/>
<rect x="1828.7" y="279.60" width="51.6" height="220.54" fill="#005147"/>
<path d="M1828.7,279.6 L1854.5,169.6 L1880.3,279.6Z" fill="#003c30"/>
<path d="M1828.7,2479.0 L1828.7,279.6 L1854.5,169.6 L1880.3,279.6 L1880.3,2479.0Z" fill="none" stroke="#000" stroke-width="3.3" stroke-linejoin="miter"/>
<path d="M1880.3,2479.0h15.5" stroke="#000" stroke-width="3.3"/>
<text x="1912.8" y="2497.5" font-family="Liberation Sans, sans-serif" font-size="51" textLength="29.5" lengthAdjust="spacingAndGlyphs">0</text>
<path d="M1880.3,2259.1h15.5" stroke="#000" stroke-width="3.3"/>
<text x="1912.8" y="2277.6" font-family="Liberation Sans, sans-serif" font-size="51" textLength="59" lengthAdjust="spacingAndGlyphs">20</text>
<path d="M1880.3,2039.1h15.5" stroke="#000" stroke-width="3.3"/>
<text x="1912.8" y="2057.6" font-family="Liberation Sans, sans-serif" font-size="51" textLength="59" lengthAdjust="spacingAndGlyphs">40</text>
<path d="M1880.3,1819.2h15.5" stroke="#000" stroke-width="3.3"/>
<text x="1912.8" y="1837.7" font-family="Liberation Sans, sans-serif" font-size="51" textLength="59" lengthAdjust="spacingAndGlyphs">60</text>
<path d="M1880.3,1599.2h15.5" stroke="#000" stroke-width="3.3"/>
<text x="1912.8" y="1617.7" font-family="Liberation Sans, sans-serif" font-size="51" textLength="59" lengthAdjust="spacingAndGlyphs">80</text>
<path d="M1880.3,1379.3h15.5" stroke="#000" stroke-width="3.3"/>
<text x="1912.8" y="1397.8" font-family="Liberation Sans, sans-serif" font-size="51" textLength="88.6" lengthAdjust="spacingAndGlyphs">100</text>
<path d="M1880.3,1159.4h15.5" stroke="#000" stroke-width="3.3"/>
<text x="1912.8" y="1177.9" font-family="Liberation Sans, sans-serif" font-size="51" textLength="88.6" lengthAdjust="spacingAndGlyphs">120</text>
<path d="M1880.3,939.4h15.5" stroke="#000" stroke-width="3.3"/>
<text x="1912.8" y="957.9" font-family="Liberation Sans, sans-serif" font-size="51" textLength="88.6" lengthAdjust="spacingAndGlyphs">140</text>
<path d="M1880.3,719.5h15.5" stroke="#000" stroke-width="3.3"/>
<text x="1912.8" y="738.0" font-family="Liberation Sans, sans-serif" font-size="51" textLength="88.6" lengthAdjust="spacingAndGlyphs">160</text>
<path d="M1880.3,499.5h15.5" stroke="#000" stroke-width="3.3"/>
<text x="1912.8" y="518.0" font-family="Liberation Sans, sans-serif" font-size="51" textLength="88.6" lengthAdjust="spacingAndGlyphs">180</text>
<path d="M1880.3,279.6h15.5" stroke="#000" stroke-width="3.3"/>
<text x="1912.8" y="298.1" font-family="Liberation Sans, sans-serif" font-size="51" textLength="88.6" lengthAdjust="spacingAndGlyphs">200</text>
<g transform="translate(1560,2270) scale(0.11655)">
<path fill="#0073b9" d="M135,600 C135,680 150,790 170,850 C200,920 250,1000 380,1130 C440,1180 500,1205 550,1220 C620,1245 690,1262 750,1265 C820,1265 890,1255 950,1240 C1010,1225 1070,1200 1120,1170 C1180,1130 1230,1085 1270,1040 C1320,985 1355,930 1380,880 C1415,815 1435,760 1450,700 C1468,640 1478,600 1480,560 L1485,455 L1550,455 L1340,240 L1120,455 L1195,455 C1195,500 1193,530 1190,560 C1182,610 1172,660 1160,700 C1145,750 1125,790 1100,830 C1078,870 1050,900 1020,930 C990,960 955,990 920,1010 C880,1035 840,1050 800,1060 C760,1072 720,1080 680,1080 C630,1082 585,1080 540,1070 C490,1055 440,1035 400,1010 C360,985 320,955 290,920 C255,885 230,855 210,820 C190,790 175,760 165,730 C155,700 150,675 150,650 Z"/>
<path fill="#fff" stroke="#0073b9" stroke-width="12" stroke-linejoin="miter" d="M135,600 C132,560 135,530 140,500 C150,455 162,415 180,380 C200,335 228,295 260,260 C295,222 335,192 380,170 C425,148 470,135 520,130 C570,124 615,124 660,130 C705,138 745,152 780,170 C815,190 845,212 870,240 C896,270 915,303 930,340 C942,372 950,405 955,440 C960,478 961,510 960,545 L1025,540 L805,730 L625,540 L690,530 C692,508 690,488 685,470 C678,446 666,426 650,410 C632,392 612,379 590,370 C565,359 538,352 510,350 C480,348 450,352 420,360 C388,370 358,388 330,410 C300,432 273,460 250,490 C225,520 205,555 190,590 C178,622 170,655 165,690 L160,730 C150,700 140,650 135,600Z"/>
<circle cx="805" cy="900" r="146" fill="#f39200"/>
<text x="222" y="798" font-family="Liberation Sans, sans-serif" font-weight="bold" font-style="italic" font-size="222" textLength="440" lengthAdjust="spacingAndGlyphs" fill="#111">INPE</text>
</g>
</svg>
</body></html>
